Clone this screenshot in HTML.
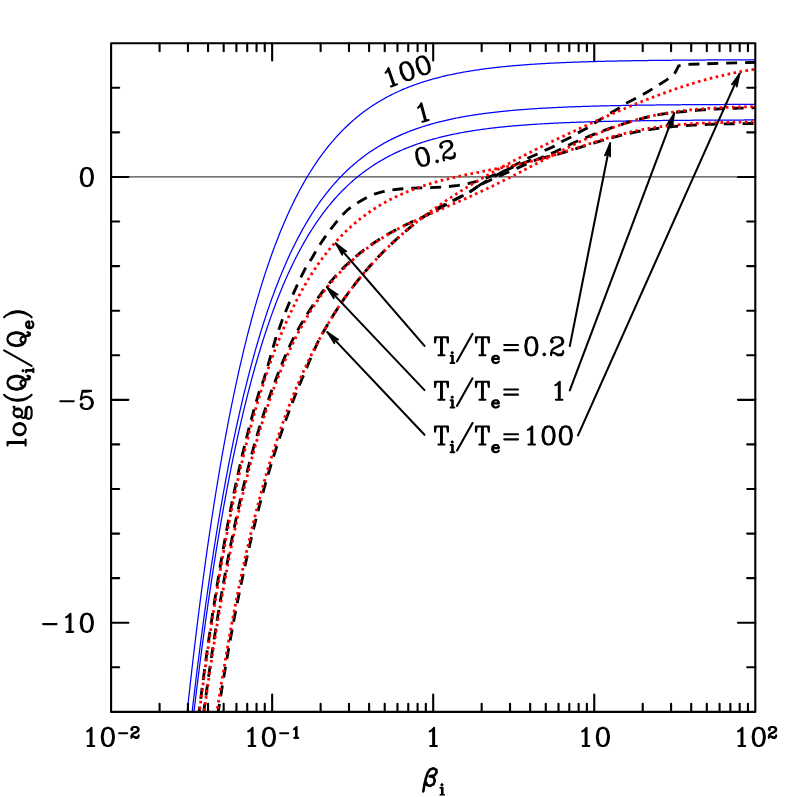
<!DOCTYPE html>
<html><head><meta charset="utf-8"><title>chart</title><style>
html,body{margin:0;padding:0;background:#fff;}
body{width:797px;height:797px;overflow:hidden;font-family:"Liberation Sans",sans-serif;}
svg{display:block}
</style></head><body>
<svg width="797" height="797" viewBox="0 0 797 797" role="img" aria-label="log(Qi/Qe) versus beta_i for Ti/Te = 0.2, 1, 100"><desc>Plot of log(Q_i/Q_e) against beta_i from 10^-2 to 10^2 for T_i/T_e=0.2, T_i/T_e=1 and T_i/T_e=100; blue solid curves labelled 100, 1, 0.2; black dashed and red dotted curves.</desc>
<defs><clipPath id="cp"><rect x="111.10" y="43.20" width="644.20" height="668.70"/></clipPath></defs>
<rect width="797" height="797" fill="#fff"/>
<g clip-path="url(#cp)" fill="none">
<path d="M111.10,176.94 H755.30" stroke="#484848" stroke-width="1.3"/>
<path d="M190.55,741.48 L191.62,732.01 L192.70,722.69 L193.77,713.50 L194.85,704.46 L195.92,695.55 L196.99,686.78 L198.07,678.14 L199.14,669.64 L200.21,661.26 L201.29,653.01 L202.36,644.89 L203.44,636.89 L204.51,629.01 L205.58,621.25 L206.66,613.61 L207.73,606.09 L208.80,598.68 L209.88,591.39 L210.95,584.20 L212.02,577.13 L213.10,570.16 L214.17,563.30 L215.25,556.54 L216.32,549.89 L217.39,543.34 L218.47,536.89 L219.54,530.53 L220.61,524.27 L221.69,518.11 L222.76,512.04 L223.83,506.07 L224.91,500.18 L225.98,494.39 L227.06,488.68 L228.13,483.06 L229.20,477.53 L230.28,472.08 L231.35,466.71 L232.42,461.43 L233.50,456.22 L234.57,451.10 L235.65,446.05 L236.72,441.08 L237.79,436.18 L238.87,431.36 L239.94,426.62 L241.01,421.94 L242.09,417.34 L243.16,412.81 L244.23,408.34 L245.31,403.95 L246.38,399.62 L247.46,395.35 L248.53,391.16 L249.60,387.02 L250.68,382.95 L251.75,378.94 L252.82,374.99 L253.90,371.11 L254.97,367.28 L256.04,363.51 L257.12,359.79 L258.19,356.14 L259.27,352.54 L260.34,348.99 L261.41,345.50 L262.49,342.06 L263.56,338.67 L264.63,335.34 L265.71,332.06 L266.78,328.82 L267.86,325.64 L268.93,322.50 L270.00,319.41 L271.08,316.37 L272.15,313.38 L273.22,310.43 L274.30,307.52 L275.37,304.66 L276.44,301.85 L277.52,299.07 L278.59,296.34 L279.67,293.65 L280.74,291.00 L281.81,288.39 L282.89,285.83 L283.96,283.30 L285.03,280.80 L286.11,278.35 L287.18,275.94 L288.25,273.56 L289.33,271.21 L290.40,268.91 L291.48,266.64 L292.55,264.40 L293.62,262.19 L294.70,260.03 L295.77,257.89 L296.84,255.78 L297.92,253.71 L298.99,251.67 L300.07,249.66 L301.14,247.68 L302.21,245.74 L303.29,243.82 L304.36,241.93 L305.43,240.07 L306.51,238.23 L307.58,236.43 L308.65,234.65 L309.73,232.90 L310.80,231.18 L311.88,229.48 L312.95,227.81 L314.02,226.16 L315.10,224.54 L316.17,222.95 L317.24,221.38 L318.32,219.83 L319.39,218.30 L320.46,216.80 L321.54,215.32 L322.61,213.87 L323.69,212.44 L324.76,211.02 L325.83,209.63 L326.91,208.26 L327.98,206.92 L329.05,205.59 L330.13,204.28 L331.20,202.99 L332.28,201.73 L333.35,200.48 L334.42,199.25 L335.50,198.04 L336.57,196.85 L337.64,195.67 L338.72,194.51 L339.79,193.38 L340.86,192.25 L341.94,191.15 L343.01,190.06 L344.09,188.99 L345.16,187.94 L346.23,186.90 L347.31,185.88 L348.38,184.87 L349.45,183.88 L350.53,182.90 L351.60,181.94 L352.67,180.99 L353.75,180.06 L354.82,179.14 L355.90,178.24 L356.97,177.35 L358.04,176.47 L359.12,175.61 L360.19,174.76 L361.26,173.92 L362.34,173.09 L363.41,172.28 L364.49,171.48 L365.56,170.69 L366.63,169.92 L367.71,169.15 L368.78,168.40 L369.85,167.66 L370.93,166.93 L372.00,166.21 L373.07,165.50 L374.15,164.81 L375.22,164.12 L376.30,163.45 L377.37,162.78 L378.44,162.13 L379.52,161.48 L380.59,160.84 L381.66,160.22 L382.74,159.60 L383.81,159.00 L384.88,158.40 L385.96,157.81 L387.03,157.23 L388.11,156.66 L389.18,156.10 L390.25,155.54 L391.33,155.00 L392.40,154.46 L393.47,153.93 L394.55,153.41 L395.62,152.90 L396.70,152.40 L397.77,151.90 L398.84,151.41 L399.92,150.93 L400.99,150.45 L402.06,149.99 L403.14,149.53 L404.21,149.07 L405.28,148.63 L406.36,148.19 L407.43,147.75 L408.51,147.33 L409.58,146.91 L410.65,146.49 L411.73,146.09 L412.80,145.69 L413.87,145.29 L414.95,144.90 L416.02,144.52 L417.09,144.14 L418.17,143.77 L419.24,143.41 L420.32,143.05 L421.39,142.69 L422.46,142.34 L423.54,142.00 L424.61,141.66 L425.68,141.33 L426.76,141.00 L427.83,140.67 L428.91,140.36 L429.98,140.04 L431.05,139.73 L432.13,139.43 L433.20,139.13 L434.27,138.83 L435.35,138.54 L436.42,138.26 L437.49,137.98 L438.57,137.70 L439.64,137.43 L440.72,137.16 L441.79,136.89 L442.86,136.63 L443.94,136.37 L445.01,136.12 L446.08,135.87 L447.16,135.63 L448.23,135.39 L449.30,135.15 L450.38,134.91 L451.45,134.68 L452.53,134.46 L453.60,134.23 L454.67,134.01 L455.75,133.79 L456.82,133.58 L457.89,133.37 L458.97,133.16 L460.04,132.96 L461.12,132.76 L462.19,132.56 L463.26,132.37 L464.34,132.17 L465.41,131.98 L466.48,131.80 L467.56,131.61 L468.63,131.43 L469.70,131.26 L470.78,131.08 L471.85,130.91 L472.93,130.74 L474.00,130.57 L475.07,130.41 L476.15,130.25 L477.22,130.09 L478.29,129.93 L479.37,129.77 L480.44,129.62 L481.51,129.47 L482.59,129.32 L483.66,129.18 L484.74,129.04 L485.81,128.89 L486.88,128.75 L487.96,128.62 L489.03,128.48 L490.10,128.35 L491.18,128.22 L492.25,128.09 L493.33,127.96 L494.40,127.84 L495.47,127.72 L496.55,127.60 L497.62,127.48 L498.69,127.36 L499.77,127.24 L500.84,127.13 L501.91,127.02 L502.99,126.91 L504.06,126.80 L505.14,126.69 L506.21,126.59 L507.28,126.48 L508.36,126.38 L509.43,126.28 L510.50,126.18 L511.58,126.08 L512.65,125.99 L513.72,125.89 L514.80,125.80 L515.87,125.71 L516.95,125.62 L518.02,125.53 L519.09,125.44 L520.17,125.35 L521.24,125.27 L522.31,125.18 L523.39,125.10 L524.46,125.02 L525.54,124.94 L526.61,124.86 L527.68,124.78 L528.76,124.71 L529.83,124.63 L530.90,124.56 L531.98,124.48 L533.05,124.41 L534.12,124.34 L535.20,124.27 L536.27,124.20 L537.35,124.14 L538.42,124.07 L539.49,124.00 L540.57,123.94 L541.64,123.88 L542.71,123.81 L543.79,123.75 L544.86,123.69 L545.93,123.63 L547.01,123.57 L548.08,123.51 L549.16,123.46 L550.23,123.40 L551.30,123.35 L552.38,123.29 L553.45,123.24 L554.52,123.18 L555.60,123.13 L556.67,123.08 L557.75,123.03 L558.82,122.98 L559.89,122.93 L560.97,122.88 L562.04,122.84 L563.11,122.79 L564.19,122.74 L565.26,122.70 L566.33,122.65 L567.41,122.61 L568.48,122.57 L569.56,122.52 L570.63,122.48 L571.70,122.44 L572.78,122.40 L573.85,122.36 L574.92,122.32 L576.00,122.28 L577.07,122.24 L578.14,122.21 L579.22,122.17 L580.29,122.13 L581.37,122.10 L582.44,122.06 L583.51,122.03 L584.59,121.99 L585.66,121.96 L586.73,121.92 L587.81,121.89 L588.88,121.86 L589.96,121.83 L591.03,121.80 L592.10,121.76 L593.18,121.73 L594.25,121.70 L595.32,121.67 L596.40,121.65 L597.47,121.62 L598.54,121.59 L599.62,121.56 L600.69,121.53 L601.77,121.51 L602.84,121.48 L603.91,121.45 L604.99,121.43 L606.06,121.40 L607.13,121.38 L608.21,121.35 L609.28,121.33 L610.35,121.31 L611.43,121.28 L612.50,121.26 L613.58,121.24 L614.65,121.21 L615.72,121.19 L616.80,121.17 L617.87,121.15 L618.94,121.13 L620.02,121.11 L621.09,121.09 L622.17,121.07 L623.24,121.05 L624.31,121.03 L625.39,121.01 L626.46,120.99 L627.53,120.97 L628.61,120.95 L629.68,120.93 L630.75,120.92 L631.83,120.90 L632.90,120.88 L633.98,120.87 L635.05,120.85 L636.12,120.83 L637.20,120.82 L638.27,120.80 L639.34,120.78 L640.42,120.77 L641.49,120.75 L642.56,120.74 L643.64,120.72 L644.71,120.71 L645.79,120.69 L646.86,120.68 L647.93,120.67 L649.01,120.65 L650.08,120.64 L651.15,120.63 L652.23,120.61 L653.30,120.60 L654.38,120.59 L655.45,120.58 L656.52,120.56 L657.60,120.55 L658.67,120.54 L659.74,120.53 L660.82,120.52 L661.89,120.50 L662.96,120.49 L664.04,120.48 L665.11,120.47 L666.19,120.46 L667.26,120.45 L668.33,120.44 L669.41,120.43 L670.48,120.42 L671.55,120.41 L672.63,120.40 L673.70,120.39 L674.77,120.38 L675.85,120.37 L676.92,120.36 L678.00,120.35 L679.07,120.34 L680.14,120.34 L681.22,120.33 L682.29,120.32 L683.36,120.31 L684.44,120.30 L685.51,120.29 L686.59,120.29 L687.66,120.28 L688.73,120.27 L689.81,120.26 L690.88,120.25 L691.95,120.25 L693.03,120.24 L694.10,120.23 L695.17,120.23 L696.25,120.22 L697.32,120.21 L698.40,120.21 L699.47,120.20 L700.54,120.19 L701.62,120.19 L702.69,120.18 L703.76,120.17 L704.84,120.17 L705.91,120.16 L706.98,120.15 L708.06,120.15 L709.13,120.14 L710.21,120.14 L711.28,120.13 L712.35,120.13 L713.43,120.12 L714.50,120.12 L715.57,120.11 L716.65,120.10 L717.72,120.10 L718.80,120.09 L719.87,120.09 L720.94,120.08 L722.02,120.08 L723.09,120.08 L724.16,120.07 L725.24,120.07 L726.31,120.06 L727.38,120.06 L728.46,120.05 L729.53,120.05 L730.61,120.04 L731.68,120.04 L732.75,120.04 L733.83,120.03 L734.90,120.03 L735.97,120.02 L737.05,120.02 L738.12,120.02 L739.19,120.01 L740.27,120.01 L741.34,120.00 L742.42,120.00 L743.49,120.00 L744.56,119.99 L745.64,119.99 L746.71,119.99 L747.78,119.98 L748.86,119.98 L749.93,119.98 L751.01,119.97 L752.08,119.97 L753.15,119.97 L754.23,119.96 L755.30,119.96" stroke="#0000ff" stroke-width="1.25"/>
<path d="M188.40,745.29 L189.48,735.52 L190.55,725.90 L191.62,716.43 L192.70,707.11 L193.77,697.92 L194.85,688.88 L195.92,679.97 L196.99,671.20 L198.07,662.56 L199.14,654.06 L200.21,645.68 L201.29,637.43 L202.36,629.31 L203.44,621.31 L204.51,613.43 L205.58,605.67 L206.66,598.03 L207.73,590.51 L208.80,583.10 L209.88,575.81 L210.95,568.62 L212.02,561.55 L213.10,554.58 L214.17,547.72 L215.25,540.96 L216.32,534.31 L217.39,527.76 L218.47,521.31 L219.54,514.95 L220.61,508.69 L221.69,502.53 L222.76,496.46 L223.83,490.49 L224.91,484.60 L225.98,478.81 L227.06,473.10 L228.13,467.48 L229.20,461.95 L230.28,456.50 L231.35,451.13 L232.42,445.85 L233.50,440.64 L234.57,435.52 L235.65,430.47 L236.72,425.50 L237.79,420.60 L238.87,415.78 L239.94,411.04 L241.01,406.36 L242.09,401.76 L243.16,397.23 L244.23,392.76 L245.31,388.37 L246.38,384.04 L247.46,379.77 L248.53,375.58 L249.60,371.44 L250.68,367.37 L251.75,363.36 L252.82,359.41 L253.90,355.53 L254.97,351.70 L256.04,347.93 L257.12,344.21 L258.19,340.56 L259.27,336.96 L260.34,333.41 L261.41,329.92 L262.49,326.48 L263.56,323.09 L264.63,319.76 L265.71,316.48 L266.78,313.24 L267.86,310.06 L268.93,306.92 L270.00,303.83 L271.08,300.79 L272.15,297.80 L273.22,294.85 L274.30,291.94 L275.37,289.08 L276.44,286.27 L277.52,283.49 L278.59,280.76 L279.67,278.07 L280.74,275.42 L281.81,272.81 L282.89,270.25 L283.96,267.72 L285.03,265.22 L286.11,262.77 L287.18,260.36 L288.25,257.98 L289.33,255.63 L290.40,253.33 L291.48,251.06 L292.55,248.82 L293.62,246.61 L294.70,244.45 L295.77,242.31 L296.84,240.20 L297.92,238.13 L298.99,236.09 L300.07,234.08 L301.14,232.10 L302.21,230.16 L303.29,228.24 L304.36,226.35 L305.43,224.49 L306.51,222.65 L307.58,220.85 L308.65,219.07 L309.73,217.32 L310.80,215.60 L311.88,213.90 L312.95,212.23 L314.02,210.58 L315.10,208.96 L316.17,207.37 L317.24,205.80 L318.32,204.25 L319.39,202.72 L320.46,201.22 L321.54,199.74 L322.61,198.29 L323.69,196.86 L324.76,195.44 L325.83,194.05 L326.91,192.68 L327.98,191.34 L329.05,190.01 L330.13,188.70 L331.20,187.41 L332.28,186.15 L333.35,184.90 L334.42,183.67 L335.50,182.46 L336.57,181.27 L337.64,180.09 L338.72,178.93 L339.79,177.80 L340.86,176.67 L341.94,175.57 L343.01,174.48 L344.09,173.41 L345.16,172.36 L346.23,171.32 L347.31,170.30 L348.38,169.29 L349.45,168.30 L350.53,167.32 L351.60,166.36 L352.67,165.41 L353.75,164.48 L354.82,163.56 L355.90,162.66 L356.97,161.77 L358.04,160.89 L359.12,160.03 L360.19,159.17 L361.26,158.34 L362.34,157.51 L363.41,156.70 L364.49,155.90 L365.56,155.11 L366.63,154.34 L367.71,153.57 L368.78,152.82 L369.85,152.08 L370.93,151.35 L372.00,150.63 L373.07,149.92 L374.15,149.23 L375.22,148.54 L376.30,147.87 L377.37,147.20 L378.44,146.55 L379.52,145.90 L380.59,145.26 L381.66,144.64 L382.74,144.02 L383.81,143.42 L384.88,142.82 L385.96,142.23 L387.03,141.65 L388.11,141.08 L389.18,140.52 L390.25,139.96 L391.33,139.42 L392.40,138.88 L393.47,138.35 L394.55,137.83 L395.62,137.32 L396.70,136.82 L397.77,136.32 L398.84,135.83 L399.92,135.35 L400.99,134.87 L402.06,134.41 L403.14,133.95 L404.21,133.49 L405.28,133.05 L406.36,132.61 L407.43,132.17 L408.51,131.75 L409.58,131.33 L410.65,130.91 L411.73,130.51 L412.80,130.11 L413.87,129.71 L414.95,129.32 L416.02,128.94 L417.09,128.56 L418.17,128.19 L419.24,127.83 L420.32,127.47 L421.39,127.11 L422.46,126.76 L423.54,126.42 L424.61,126.08 L425.68,125.75 L426.76,125.42 L427.83,125.09 L428.91,124.78 L429.98,124.46 L431.05,124.15 L432.13,123.85 L433.20,123.55 L434.27,123.25 L435.35,122.96 L436.42,122.68 L437.49,122.40 L438.57,122.12 L439.64,121.85 L440.72,121.58 L441.79,121.31 L442.86,121.05 L443.94,120.79 L445.01,120.54 L446.08,120.29 L447.16,120.05 L448.23,119.81 L449.30,119.57 L450.38,119.33 L451.45,119.10 L452.53,118.87 L453.60,118.65 L454.67,118.43 L455.75,118.21 L456.82,118.00 L457.89,117.79 L458.97,117.58 L460.04,117.38 L461.12,117.18 L462.19,116.98 L463.26,116.79 L464.34,116.59 L465.41,116.40 L466.48,116.22 L467.56,116.03 L468.63,115.85 L469.70,115.68 L470.78,115.50 L471.85,115.33 L472.93,115.16 L474.00,114.99 L475.07,114.83 L476.15,114.67 L477.22,114.51 L478.29,114.35 L479.37,114.19 L480.44,114.04 L481.51,113.89 L482.59,113.74 L483.66,113.60 L484.74,113.45 L485.81,113.31 L486.88,113.17 L487.96,113.04 L489.03,112.90 L490.10,112.77 L491.18,112.64 L492.25,112.51 L493.33,112.38 L494.40,112.26 L495.47,112.14 L496.55,112.02 L497.62,111.90 L498.69,111.78 L499.77,111.66 L500.84,111.55 L501.91,111.44 L502.99,111.33 L504.06,111.22 L505.14,111.11 L506.21,111.01 L507.28,110.90 L508.36,110.80 L509.43,110.70 L510.50,110.60 L511.58,110.50 L512.65,110.41 L513.72,110.31 L514.80,110.22 L515.87,110.13 L516.95,110.04 L518.02,109.95 L519.09,109.86 L520.17,109.77 L521.24,109.69 L522.31,109.60 L523.39,109.52 L524.46,109.44 L525.54,109.36 L526.61,109.28 L527.68,109.20 L528.76,109.13 L529.83,109.05 L530.90,108.98 L531.98,108.90 L533.05,108.83 L534.12,108.76 L535.20,108.69 L536.27,108.62 L537.35,108.56 L538.42,108.49 L539.49,108.42 L540.57,108.36 L541.64,108.30 L542.71,108.23 L543.79,108.17 L544.86,108.11 L545.93,108.05 L547.01,107.99 L548.08,107.93 L549.16,107.88 L550.23,107.82 L551.30,107.77 L552.38,107.71 L553.45,107.66 L554.52,107.60 L555.60,107.55 L556.67,107.50 L557.75,107.45 L558.82,107.40 L559.89,107.35 L560.97,107.30 L562.04,107.26 L563.11,107.21 L564.19,107.16 L565.26,107.12 L566.33,107.07 L567.41,107.03 L568.48,106.99 L569.56,106.94 L570.63,106.90 L571.70,106.86 L572.78,106.82 L573.85,106.78 L574.92,106.74 L576.00,106.70 L577.07,106.66 L578.14,106.63 L579.22,106.59 L580.29,106.55 L581.37,106.52 L582.44,106.48 L583.51,106.45 L584.59,106.41 L585.66,106.38 L586.73,106.34 L587.81,106.31 L588.88,106.28 L589.96,106.25 L591.03,106.22 L592.10,106.18 L593.18,106.15 L594.25,106.12 L595.32,106.09 L596.40,106.07 L597.47,106.04 L598.54,106.01 L599.62,105.98 L600.69,105.95 L601.77,105.93 L602.84,105.90 L603.91,105.87 L604.99,105.85 L606.06,105.82 L607.13,105.80 L608.21,105.77 L609.28,105.75 L610.35,105.73 L611.43,105.70 L612.50,105.68 L613.58,105.66 L614.65,105.63 L615.72,105.61 L616.80,105.59 L617.87,105.57 L618.94,105.55 L620.02,105.53 L621.09,105.51 L622.17,105.49 L623.24,105.47 L624.31,105.45 L625.39,105.43 L626.46,105.41 L627.53,105.39 L628.61,105.37 L629.68,105.35 L630.75,105.34 L631.83,105.32 L632.90,105.30 L633.98,105.29 L635.05,105.27 L636.12,105.25 L637.20,105.24 L638.27,105.22 L639.34,105.20 L640.42,105.19 L641.49,105.17 L642.56,105.16 L643.64,105.14 L644.71,105.13 L645.79,105.11 L646.86,105.10 L647.93,105.09 L649.01,105.07 L650.08,105.06 L651.15,105.05 L652.23,105.03 L653.30,105.02 L654.38,105.01 L655.45,105.00 L656.52,104.98 L657.60,104.97 L658.67,104.96 L659.74,104.95 L660.82,104.94 L661.89,104.92 L662.96,104.91 L664.04,104.90 L665.11,104.89 L666.19,104.88 L667.26,104.87 L668.33,104.86 L669.41,104.85 L670.48,104.84 L671.55,104.83 L672.63,104.82 L673.70,104.81 L674.77,104.80 L675.85,104.79 L676.92,104.78 L678.00,104.77 L679.07,104.76 L680.14,104.76 L681.22,104.75 L682.29,104.74 L683.36,104.73 L684.44,104.72 L685.51,104.71 L686.59,104.71 L687.66,104.70 L688.73,104.69 L689.81,104.68 L690.88,104.67 L691.95,104.67 L693.03,104.66 L694.10,104.65 L695.17,104.65 L696.25,104.64 L697.32,104.63 L698.40,104.63 L699.47,104.62 L700.54,104.61 L701.62,104.61 L702.69,104.60 L703.76,104.59 L704.84,104.59 L705.91,104.58 L706.98,104.57 L708.06,104.57 L709.13,104.56 L710.21,104.56 L711.28,104.55 L712.35,104.55 L713.43,104.54 L714.50,104.54 L715.57,104.53 L716.65,104.52 L717.72,104.52 L718.80,104.51 L719.87,104.51 L720.94,104.50 L722.02,104.50 L723.09,104.50 L724.16,104.49 L725.24,104.49 L726.31,104.48 L727.38,104.48 L728.46,104.47 L729.53,104.47 L730.61,104.46 L731.68,104.46 L732.75,104.46 L733.83,104.45 L734.90,104.45 L735.97,104.44 L737.05,104.44 L738.12,104.44 L739.19,104.43 L740.27,104.43 L741.34,104.42 L742.42,104.42 L743.49,104.42 L744.56,104.41 L745.64,104.41 L746.71,104.41 L747.78,104.40 L748.86,104.40 L749.93,104.40 L751.01,104.39 L752.08,104.39 L753.15,104.39 L754.23,104.38 L755.30,104.38" stroke="#0000ff" stroke-width="1.25"/>
<path d="M184.11,741.30 L185.18,730.92 L186.26,720.69 L187.33,710.62 L188.40,700.71 L189.48,690.94 L190.55,681.32 L191.62,671.85 L192.70,662.53 L193.77,653.34 L194.85,644.30 L195.92,635.39 L196.99,626.62 L198.07,617.98 L199.14,609.48 L200.21,601.10 L201.29,592.85 L202.36,584.73 L203.44,576.73 L204.51,568.85 L205.58,561.09 L206.66,553.45 L207.73,545.93 L208.80,538.52 L209.88,531.23 L210.95,524.04 L212.02,516.97 L213.10,510.00 L214.17,503.14 L215.25,496.38 L216.32,489.73 L217.39,483.18 L218.47,476.73 L219.54,470.37 L220.61,464.11 L221.69,457.95 L222.76,451.88 L223.83,445.91 L224.91,440.02 L225.98,434.23 L227.06,428.52 L228.13,422.90 L229.20,417.37 L230.28,411.92 L231.35,406.55 L232.42,401.27 L233.50,396.06 L234.57,390.94 L235.65,385.89 L236.72,380.92 L237.79,376.02 L238.87,371.20 L239.94,366.46 L241.01,361.78 L242.09,357.18 L243.16,352.65 L244.23,348.18 L245.31,343.79 L246.38,339.46 L247.46,335.19 L248.53,331.00 L249.60,326.86 L250.68,322.79 L251.75,318.78 L252.82,314.83 L253.90,310.95 L254.97,307.12 L256.04,303.35 L257.12,299.63 L258.19,295.98 L259.27,292.38 L260.34,288.83 L261.41,285.34 L262.49,281.90 L263.56,278.51 L264.63,275.18 L265.71,271.90 L266.78,268.66 L267.86,265.48 L268.93,262.34 L270.00,259.25 L271.08,256.21 L272.15,253.22 L273.22,250.27 L274.30,247.36 L275.37,244.50 L276.44,241.69 L277.52,238.91 L278.59,236.18 L279.67,233.49 L280.74,230.84 L281.81,228.23 L282.89,225.67 L283.96,223.14 L285.03,220.64 L286.11,218.19 L287.18,215.78 L288.25,213.40 L289.33,211.05 L290.40,208.75 L291.48,206.48 L292.55,204.24 L293.62,202.03 L294.70,199.87 L295.77,197.73 L296.84,195.62 L297.92,193.55 L298.99,191.51 L300.07,189.50 L301.14,187.52 L302.21,185.58 L303.29,183.66 L304.36,181.77 L305.43,179.91 L306.51,178.07 L307.58,176.27 L308.65,174.49 L309.73,172.74 L310.80,171.02 L311.88,169.32 L312.95,167.65 L314.02,166.00 L315.10,164.38 L316.17,162.79 L317.24,161.22 L318.32,159.67 L319.39,158.14 L320.46,156.64 L321.54,155.16 L322.61,153.71 L323.69,152.28 L324.76,150.86 L325.83,149.47 L326.91,148.10 L327.98,146.76 L329.05,145.43 L330.13,144.12 L331.20,142.83 L332.28,141.57 L333.35,140.32 L334.42,139.09 L335.50,137.88 L336.57,136.69 L337.64,135.51 L338.72,134.35 L339.79,133.22 L340.86,132.09 L341.94,130.99 L343.01,129.90 L344.09,128.83 L345.16,127.78 L346.23,126.74 L347.31,125.72 L348.38,124.71 L349.45,123.72 L350.53,122.74 L351.60,121.78 L352.67,120.83 L353.75,119.90 L354.82,118.98 L355.90,118.08 L356.97,117.19 L358.04,116.31 L359.12,115.45 L360.19,114.59 L361.26,113.76 L362.34,112.93 L363.41,112.12 L364.49,111.32 L365.56,110.53 L366.63,109.76 L367.71,108.99 L368.78,108.24 L369.85,107.50 L370.93,106.77 L372.00,106.05 L373.07,105.34 L374.15,104.65 L375.22,103.96 L376.30,103.29 L377.37,102.62 L378.44,101.97 L379.52,101.32 L380.59,100.68 L381.66,100.06 L382.74,99.44 L383.81,98.84 L384.88,98.24 L385.96,97.65 L387.03,97.07 L388.11,96.50 L389.18,95.94 L390.25,95.38 L391.33,94.84 L392.40,94.30 L393.47,93.77 L394.55,93.25 L395.62,92.74 L396.70,92.24 L397.77,91.74 L398.84,91.25 L399.92,90.77 L400.99,90.29 L402.06,89.83 L403.14,89.37 L404.21,88.91 L405.28,88.47 L406.36,88.03 L407.43,87.59 L408.51,87.17 L409.58,86.75 L410.65,86.33 L411.73,85.93 L412.80,85.53 L413.87,85.13 L414.95,84.74 L416.02,84.36 L417.09,83.98 L418.17,83.61 L419.24,83.25 L420.32,82.89 L421.39,82.53 L422.46,82.18 L423.54,81.84 L424.61,81.50 L425.68,81.17 L426.76,80.84 L427.83,80.51 L428.91,80.20 L429.98,79.88 L431.05,79.57 L432.13,79.27 L433.20,78.97 L434.27,78.67 L435.35,78.38 L436.42,78.10 L437.49,77.82 L438.57,77.54 L439.64,77.27 L440.72,77.00 L441.79,76.73 L442.86,76.47 L443.94,76.21 L445.01,75.96 L446.08,75.71 L447.16,75.47 L448.23,75.23 L449.30,74.99 L450.38,74.75 L451.45,74.52 L452.53,74.29 L453.60,74.07 L454.67,73.85 L455.75,73.63 L456.82,73.42 L457.89,73.21 L458.97,73.00 L460.04,72.80 L461.12,72.60 L462.19,72.40 L463.26,72.21 L464.34,72.01 L465.41,71.82 L466.48,71.64 L467.56,71.45 L468.63,71.27 L469.70,71.10 L470.78,70.92 L471.85,70.75 L472.93,70.58 L474.00,70.41 L475.07,70.25 L476.15,70.09 L477.22,69.93 L478.29,69.77 L479.37,69.61 L480.44,69.46 L481.51,69.31 L482.59,69.16 L483.66,69.02 L484.74,68.87 L485.81,68.73 L486.88,68.59 L487.96,68.46 L489.03,68.32 L490.10,68.19 L491.18,68.06 L492.25,67.93 L493.33,67.80 L494.40,67.68 L495.47,67.56 L496.55,67.44 L497.62,67.32 L498.69,67.20 L499.77,67.08 L500.84,66.97 L501.91,66.86 L502.99,66.75 L504.06,66.64 L505.14,66.53 L506.21,66.43 L507.28,66.32 L508.36,66.22 L509.43,66.12 L510.50,66.02 L511.58,65.92 L512.65,65.83 L513.72,65.73 L514.80,65.64 L515.87,65.55 L516.95,65.46 L518.02,65.37 L519.09,65.28 L520.17,65.19 L521.24,65.11 L522.31,65.02 L523.39,64.94 L524.46,64.86 L525.54,64.78 L526.61,64.70 L527.68,64.62 L528.76,64.55 L529.83,64.47 L530.90,64.40 L531.98,64.32 L533.05,64.25 L534.12,64.18 L535.20,64.11 L536.27,64.04 L537.35,63.98 L538.42,63.91 L539.49,63.84 L540.57,63.78 L541.64,63.72 L542.71,63.65 L543.79,63.59 L544.86,63.53 L545.93,63.47 L547.01,63.41 L548.08,63.35 L549.16,63.30 L550.23,63.24 L551.30,63.19 L552.38,63.13 L553.45,63.08 L554.52,63.02 L555.60,62.97 L556.67,62.92 L557.75,62.87 L558.82,62.82 L559.89,62.77 L560.97,62.72 L562.04,62.68 L563.11,62.63 L564.19,62.58 L565.26,62.54 L566.33,62.49 L567.41,62.45 L568.48,62.41 L569.56,62.36 L570.63,62.32 L571.70,62.28 L572.78,62.24 L573.85,62.20 L574.92,62.16 L576.00,62.12 L577.07,62.08 L578.14,62.05 L579.22,62.01 L580.29,61.97 L581.37,61.94 L582.44,61.90 L583.51,61.87 L584.59,61.83 L585.66,61.80 L586.73,61.76 L587.81,61.73 L588.88,61.70 L589.96,61.67 L591.03,61.64 L592.10,61.60 L593.18,61.57 L594.25,61.54 L595.32,61.51 L596.40,61.49 L597.47,61.46 L598.54,61.43 L599.62,61.40 L600.69,61.37 L601.77,61.35 L602.84,61.32 L603.91,61.29 L604.99,61.27 L606.06,61.24 L607.13,61.22 L608.21,61.19 L609.28,61.17 L610.35,61.15 L611.43,61.12 L612.50,61.10 L613.58,61.08 L614.65,61.05 L615.72,61.03 L616.80,61.01 L617.87,60.99 L618.94,60.97 L620.02,60.95 L621.09,60.93 L622.17,60.91 L623.24,60.89 L624.31,60.87 L625.39,60.85 L626.46,60.83 L627.53,60.81 L628.61,60.79 L629.68,60.77 L630.75,60.76 L631.83,60.74 L632.90,60.72 L633.98,60.71 L635.05,60.69 L636.12,60.67 L637.20,60.66 L638.27,60.64 L639.34,60.62 L640.42,60.61 L641.49,60.59 L642.56,60.58 L643.64,60.56 L644.71,60.55 L645.79,60.53 L646.86,60.52 L647.93,60.51 L649.01,60.49 L650.08,60.48 L651.15,60.47 L652.23,60.45 L653.30,60.44 L654.38,60.43 L655.45,60.42 L656.52,60.40 L657.60,60.39 L658.67,60.38 L659.74,60.37 L660.82,60.36 L661.89,60.34 L662.96,60.33 L664.04,60.32 L665.11,60.31 L666.19,60.30 L667.26,60.29 L668.33,60.28 L669.41,60.27 L670.48,60.26 L671.55,60.25 L672.63,60.24 L673.70,60.23 L674.77,60.22 L675.85,60.21 L676.92,60.20 L678.00,60.19 L679.07,60.18 L680.14,60.18 L681.22,60.17 L682.29,60.16 L683.36,60.15 L684.44,60.14 L685.51,60.13 L686.59,60.13 L687.66,60.12 L688.73,60.11 L689.81,60.10 L690.88,60.09 L691.95,60.09 L693.03,60.08 L694.10,60.07 L695.17,60.07 L696.25,60.06 L697.32,60.05 L698.40,60.05 L699.47,60.04 L700.54,60.03 L701.62,60.03 L702.69,60.02 L703.76,60.01 L704.84,60.01 L705.91,60.00 L706.98,59.99 L708.06,59.99 L709.13,59.98 L710.21,59.98 L711.28,59.97 L712.35,59.97 L713.43,59.96 L714.50,59.96 L715.57,59.95 L716.65,59.94 L717.72,59.94 L718.80,59.93 L719.87,59.93 L720.94,59.92 L722.02,59.92 L723.09,59.92 L724.16,59.91 L725.24,59.91 L726.31,59.90 L727.38,59.90 L728.46,59.89 L729.53,59.89 L730.61,59.88 L731.68,59.88 L732.75,59.88 L733.83,59.87 L734.90,59.87 L735.97,59.86 L737.05,59.86 L738.12,59.86 L739.19,59.85 L740.27,59.85 L741.34,59.84 L742.42,59.84 L743.49,59.84 L744.56,59.83 L745.64,59.83 L746.71,59.83 L747.78,59.82 L748.86,59.82 L749.93,59.82 L751.01,59.81 L752.08,59.81 L753.15,59.81 L754.23,59.80 L755.30,59.80" stroke="#0000ff" stroke-width="1.25"/>
<path d="M194.80,746.48 L195.05,744.39 L195.30,742.31 L195.56,740.23 L195.81,738.16 L196.06,736.10 L196.31,734.05 L196.56,732.00 L196.81,729.96 L197.06,727.93 L197.32,725.91 L197.57,723.89 L197.82,721.88 L198.07,719.88 L198.32,717.88 L198.56,715.89 L198.81,713.91 L199.06,711.94 L199.30,709.97 L199.55,708.01 L199.80,706.06 L200.04,704.11 L200.29,702.17 L200.54,700.24 L200.78,698.32 L201.03,696.40 L201.28,694.49 L201.52,692.58 L201.77,690.69 L202.02,688.79 L202.26,686.91 L202.51,685.03 L202.76,683.16 L203.00,681.30 L203.25,679.44 L203.50,677.59 L203.74,675.75 L203.99,673.91 L204.24,672.08 L204.49,670.26 L204.73,668.44 L204.98,666.63 L205.23,664.82 L205.47,663.03 L205.72,661.23 L205.97,659.45 L206.21,657.67 L206.46,655.90 L206.71,654.13 L206.96,652.37 L207.20,650.62 L207.45,648.87 L207.70,647.13 L207.94,645.40 L208.19,643.67 L208.44,641.95 L208.69,640.23 L208.93,638.52 L209.18,636.82 L209.43,635.12 L209.67,633.43 L209.92,631.75 L210.17,630.07 L210.42,628.39 L210.66,626.73 L210.91,625.06 L211.16,623.41 L211.41,621.76 L211.65,620.12 L211.90,618.48 L212.15,616.85 L212.40,615.22 L212.64,613.60 L212.89,611.99 L213.14,610.38 L213.39,608.78 L213.63,607.18 L213.88,605.59 L214.13,604.00 L214.38,602.43 L214.62,600.85 L214.87,599.28 L215.11,597.72 L215.36,596.16 L215.60,594.61 L215.85,593.07 L216.09,591.53 L216.34,589.99 L216.58,588.46 L216.83,586.94 L217.07,585.42 L217.31,583.91 L217.56,582.40 L217.80,580.90 L218.05,579.40 L218.29,577.91 L218.54,576.42 L218.78,574.94 L219.03,573.47 L219.27,572.00 L219.52,570.53 L219.76,569.07 L220.01,567.62 L220.25,566.17 L220.50,564.73 L220.74,563.29 L220.99,561.85 L221.23,560.43 L221.48,559.00 L221.72,557.58 L221.97,556.17 L222.21,554.76 L222.46,553.36 L222.70,551.96 L222.95,550.57 L223.19,549.18 L223.44,547.80 L223.68,546.42 L223.93,545.05 L224.17,543.68 L224.42,542.32 L224.66,540.96 L224.91,539.61 L225.15,538.26 L225.40,536.91 L225.65,535.57 L225.89,534.24 L226.14,532.91 L226.38,531.59 L226.63,530.27 L226.87,528.95 L227.12,527.64 L227.36,526.34 L227.61,525.04 L227.86,523.74 L228.10,522.45 L228.35,521.16 L228.59,519.88 L228.84,518.60 L229.08,517.33 L229.33,516.06 L229.58,514.80 L229.82,513.54 L230.07,512.28 L230.31,511.03 L230.56,509.79 L230.80,508.54 L231.05,507.31 L231.30,506.07 L231.54,504.85 L231.79,503.62 L232.03,502.40 L232.28,501.19 L232.53,499.98 L232.77,498.77 L233.02,497.57 L233.26,496.37 L233.51,495.18 L233.76,493.99 L234.00,492.81 L234.25,491.62 L234.49,490.45 L234.74,489.28 L234.99,488.11 L235.23,486.95 L235.48,485.79 L235.73,484.63 L235.97,483.48 L236.22,482.33 L236.46,481.19 L236.71,480.05 L236.96,478.92 L237.20,477.79 L237.45,476.66 L237.70,475.54 L237.94,474.42 L238.19,473.30 L238.44,472.19 L238.68,471.09 L238.93,469.98 L239.18,468.89 L239.42,467.79 L239.67,466.70 L239.91,465.61 L240.16,464.53 L240.41,463.45 L240.65,462.38 L240.90,461.30 L241.15,460.24 L241.39,459.17 L241.64,458.11 L241.89,457.06 L242.13,456.01 L242.38,454.96 L242.63,453.91 L242.87,452.87 L243.12,451.83 L243.37,450.80 L243.62,449.77 L243.86,448.75 L244.11,447.72 L244.36,446.70 L244.60,445.69 L244.85,444.68 L245.10,443.67 L245.34,442.67 L245.59,441.67 L245.84,440.67 L246.08,439.68 L246.33,438.69 L246.58,437.70 L246.83,436.72 L247.07,435.74 L247.32,434.76 L247.57,433.79 L247.81,432.82 L248.06,431.86 L248.31,430.89 L248.55,429.94 L248.80,428.98 L249.05,428.03 L249.30,427.08 L249.54,426.14 L249.79,425.20 L250.04,424.26 L250.29,423.32 L250.53,422.39 L250.78,421.47 L251.03,420.54 L251.27,419.62 L251.52,418.70 L251.77,417.79 L252.02,416.88 L252.26,415.97 L252.51,415.06 L252.76,414.16 L253.01,413.26 L253.25,412.37 L253.50,411.48 L253.75,410.59 L254.00,409.70 L254.24,408.82 L254.49,407.94 L254.74,407.07 L254.99,406.19 L255.23,405.32 L255.48,404.46 L255.73,403.59 L255.98,402.73 L256.22,401.88 L256.47,401.02 L256.72,400.17 L256.97,399.32 L257.21,398.48 L257.46,397.64 L257.71,396.80 L257.96,395.96 L258.21,395.13 L258.45,394.30 L258.70,393.47 L258.95,392.65 L259.20,391.83 L259.44,391.01 L259.69,390.19 L259.94,389.38 L260.19,388.57 L260.44,387.77 L263.70,380.00 L269.70,359.40 L275.70,338.30 L283.30,317.20 L290.80,299.20 L298.30,282.60 L305.80,267.50 L312.00,258.00 L318.00,247.50 L324.10,238.40 L330.00,230.00 L336.10,222.30 L342.00,215.30 L348.20,209.30 L354.00,204.80 L360.20,201.20 L367.00,197.40 L374.30,194.20 L382.00,191.90 L390.40,190.20 L400.00,189.00 L412.40,188.20 L430.50,187.60 L445.00,187.00 L458.20,185.40 L468.00,183.60 L475.80,181.60 L486.50,177.80 L500.30,172.70 L517.80,165.20 L530.00,160.60 L531.13,160.54 L532.26,160.30 L533.40,160.06 L534.53,159.82 L535.66,159.57 L536.79,159.32 L537.93,159.07 L539.06,158.82 L540.19,158.56 L541.32,158.30 L542.45,158.03 L543.59,157.77 L544.72,157.50 L545.85,157.22 L546.98,156.95 L548.11,156.67 L549.25,156.39 L550.38,156.10 L551.51,155.82 L552.64,155.53 L553.78,155.24 L554.91,154.94 L556.04,154.64 L557.17,154.34 L558.30,154.04 L559.44,153.74 L560.57,153.41 L561.70,153.08 L562.83,152.74 L563.96,152.39 L565.10,152.05 L566.23,151.70 L567.36,151.36 L568.49,151.01 L569.63,150.66 L570.76,150.30 L571.89,149.95 L573.02,149.60 L574.15,149.24 L575.29,148.88 L576.42,148.53 L577.55,148.17 L578.68,147.81 L579.82,147.45 L580.95,147.09 L582.08,146.73 L583.21,146.38 L584.34,146.02 L585.48,145.66 L586.61,145.30 L587.74,144.94 L588.87,144.59 L590.00,144.23 L591.14,143.88 L592.27,143.52 L593.40,143.17 L594.53,142.82 L595.67,142.47 L596.80,142.12 L597.93,141.78 L599.06,141.43 L600.19,141.09 L601.33,140.75 L602.46,140.42 L603.59,140.08 L604.72,139.75 L605.85,139.42 L606.99,139.10 L608.12,138.77 L609.25,138.45 L610.38,138.14 L611.52,137.82 L612.65,137.51 L613.78,137.21 L614.91,136.90 L616.04,136.60 L617.18,136.31 L618.31,136.02 L619.44,135.73 L620.57,135.44 L621.71,135.16 L622.84,134.89 L623.97,134.61 L625.10,134.35 L626.23,134.08 L627.37,133.82 L628.50,133.57 L629.63,133.32 L630.76,133.07 L631.89,132.83 L633.03,132.59 L634.16,132.35 L635.29,132.13 L636.42,131.90 L637.56,131.68 L638.69,131.46 L639.82,131.25 L640.95,131.04 L642.08,130.84 L643.22,130.64 L644.35,130.45 L645.48,130.26 L646.61,130.07 L647.74,129.89 L648.88,129.71 L650.01,129.54 L651.14,129.36 L652.27,129.18 L653.41,129.01 L654.54,128.84 L655.67,128.68 L656.80,128.52 L657.93,128.37 L659.07,128.21 L660.20,128.07 L661.33,127.92 L662.46,127.78 L663.59,127.64 L664.73,127.51 L665.86,127.38 L666.99,127.25 L668.12,127.13 L669.26,127.01 L670.39,126.89 L671.52,126.78 L672.65,126.67 L673.78,126.56 L674.92,126.45 L676.05,126.35 L677.18,126.25 L678.31,126.15 L679.45,126.06 L680.58,125.97 L681.71,125.88 L682.84,125.79 L683.97,125.71 L685.11,125.63 L686.24,125.55 L687.37,125.47 L688.50,125.40 L689.63,125.33 L690.77,125.26 L691.90,125.19 L693.03,125.12 L694.16,125.06 L695.30,125.00 L696.43,124.94 L697.56,124.88 L698.69,124.82 L699.82,124.77 L700.96,124.71 L702.09,124.66 L703.22,124.61 L704.35,124.56 L705.48,124.52 L706.62,124.47 L707.75,124.43 L708.88,124.39 L710.01,124.34 L711.15,124.30 L712.28,124.27 L713.41,124.23 L714.54,124.19 L715.67,124.16 L716.81,124.12 L717.94,124.09 L719.07,124.06 L720.20,124.03 L721.34,124.00 L722.47,123.97 L723.60,123.94 L724.73,123.91 L725.86,123.89 L727.00,123.86 L728.13,123.84 L729.26,123.82 L730.39,123.79 L731.52,123.77 L732.66,123.75 L733.79,123.73 L734.92,123.71 L736.05,123.69 L737.19,123.67 L738.32,123.66 L739.45,123.64 L740.58,123.62 L741.71,123.61 L742.85,123.59 L743.98,123.58 L745.11,123.56 L746.24,123.55 L747.37,123.53 L748.51,123.52 L749.64,123.51 L750.77,123.50 L751.90,123.49 L753.04,123.47 L754.17,123.46 L755.30,123.45" stroke="#000" stroke-width="2.85" stroke-dasharray="11.00,7.90" stroke-dashoffset="8.60" stroke-linejoin="round"/>
<path d="M199.91,741.00 L200.99,732.76 L202.06,724.63 L203.12,716.63 L204.16,708.75 L205.20,701.00 L206.25,693.36 L207.29,685.83 L208.33,678.43 L209.37,671.13 L210.42,663.94 L211.46,656.87 L212.51,649.90 L213.55,643.04 L214.60,636.28 L215.64,629.63 L216.69,623.08 L217.74,616.62 L218.78,610.27 L219.83,604.01 L220.88,597.85 L221.94,591.78 L223.00,585.80 L224.05,579.92 L225.11,574.12 L226.17,568.42 L227.23,562.80 L228.29,557.26 L229.35,551.81 L230.41,546.44 L231.47,541.16 L232.52,535.95 L233.58,530.83 L234.64,525.78 L235.70,520.81 L236.77,515.91 L237.83,511.09 L238.89,506.34 L239.95,501.67 L241.01,497.06 L242.07,492.53 L243.13,488.06 L244.19,483.67 L245.26,479.34 L246.32,475.07 L247.38,470.87 L248.44,466.74 L249.51,462.67 L250.57,458.66 L251.63,454.71 L252.69,450.82 L253.76,446.99 L254.82,443.21 L255.88,439.50 L256.95,435.84 L258.01,432.24 L259.08,428.69 L260.14,425.20 L261.21,421.76 L262.27,418.37 L263.33,415.03 L264.40,411.75 L265.46,408.51 L266.53,405.33 L267.59,402.19 L268.66,399.10 L269.73,396.05 L270.79,393.06 L271.86,390.11 L272.92,387.20 L273.99,384.34 L275.05,381.52 L276.12,378.74 L277.16,376.01 L278.19,373.31 L279.21,370.66 L280.24,368.05 L281.27,365.48 L282.30,362.95 L283.33,360.45 L284.36,358.00 L285.40,355.58 L286.43,353.19 L287.46,350.85 L288.50,348.54 L289.53,346.26 L290.57,344.02 L291.64,341.81 L292.75,339.64 L293.86,337.50 L294.97,335.39 L296.08,333.31 L297.18,331.27 L298.29,329.25 L299.40,327.27 L300.50,325.31 L301.61,323.39 L302.71,321.49 L303.81,319.63 L304.92,317.79 L306.02,315.98 L307.12,314.19 L308.23,312.44 L309.33,310.71 L310.43,309.00 L311.53,307.33 L312.63,305.67 L313.73,304.04 L314.83,302.44 L315.93,300.86 L317.02,299.30 L318.11,297.77 L319.19,296.26 L320.28,294.77 L321.36,293.31 L322.45,291.87 L323.53,290.44 L324.62,289.04 L325.70,287.66 L326.78,286.30 L327.87,284.97 L328.95,283.65 L330.03,282.35 L331.12,281.07 L332.20,279.81 L333.28,278.56 L334.37,277.34 L335.45,276.13 L336.53,274.94 L337.61,273.77 L338.70,272.62 L339.78,271.48 L340.86,270.36 L341.94,269.26 L343.02,268.17 L344.11,267.10 L345.19,266.04 L346.27,265.00 L347.35,263.97 L348.43,262.96 L349.51,261.96 L350.59,260.98 L351.67,260.01 L352.76,259.06 L353.85,258.12 L354.94,257.19 L356.03,256.27 L357.12,255.37 L358.21,254.48 L359.30,253.60 L360.39,252.74 L361.47,251.88 L362.56,251.04 L363.65,250.21 L364.74,249.39 L365.82,248.59 L366.91,247.79 L368.00,247.00 L369.08,246.23 L370.17,245.46 L371.26,244.71 L372.34,243.96 L373.43,243.22 L374.51,242.50 L375.60,241.78 L376.68,241.07 L377.77,240.37 L378.86,239.68 L379.94,239.00 L381.03,238.33 L382.11,237.66 L383.19,237.01 L384.28,236.36 L385.36,235.71 L386.45,235.08 L387.53,234.45 L388.62,233.83 L389.70,233.22 L390.78,232.61 L391.87,232.01 L392.95,231.42 L394.03,230.83 L395.12,230.25 L396.20,229.68 L397.28,229.11 L398.37,228.54 L399.45,227.99 L400.53,227.43 L401.62,226.89 L402.70,226.34 L403.78,225.81 L404.86,225.27 L405.95,224.74 L407.03,224.22 L408.11,223.70 L409.19,223.18 L410.28,222.67 L411.36,222.16 L412.44,221.66 L413.52,221.15 L414.60,220.66 L415.69,220.16 L416.77,219.67 L417.85,219.18 L418.93,218.69 L420.32,218.21 L421.39,217.73 L422.46,217.25 L423.54,216.77 L424.61,216.30 L425.68,215.76 L426.76,215.18 L427.83,214.60 L428.91,214.03 L429.98,213.45 L431.05,212.88 L432.13,212.31 L433.20,211.74 L434.27,211.17 L435.35,210.60 L436.42,210.03 L437.49,209.47 L438.57,208.90 L439.64,208.33 L440.72,207.75 L441.79,207.15 L442.86,206.56 L443.94,205.97 L445.01,205.37 L446.08,204.78 L447.16,204.18 L448.23,203.58 L449.30,202.99 L450.38,202.39 L451.45,201.79 L452.53,201.20 L453.60,200.60 L454.67,200.00 L455.75,199.42 L456.82,198.85 L457.89,198.29 L458.97,197.72 L460.04,197.15 L461.12,196.58 L462.19,196.01 L463.26,195.43 L464.34,194.86 L465.41,194.28 L466.48,193.70 L467.56,193.12 L468.63,192.54 L469.70,191.96 L470.78,191.27 L471.85,190.55 L472.93,189.83 L474.00,189.10 L475.07,188.37 L476.15,187.64 L477.22,186.91" stroke="#000" stroke-width="2.85" stroke-dasharray="11.00,7.90" stroke-dashoffset="10.80" stroke-linejoin="round"/>
<path d="M477.22,186.91 L478.29,186.18 L479.37,185.44 L480.44,184.80 L481.51,184.30 L482.59,183.80 L483.66,183.29 L484.74,182.78 L485.81,182.27 L486.88,181.76 L487.96,181.25 L489.03,180.73 L490.10,180.21 L491.18,179.70 L492.25,179.17 L493.33,178.65 L494.40,178.13 L495.47,177.63 L496.55,177.18 L497.62,176.72 L498.69,176.26 L499.77,175.80 L500.84,175.34 L501.91,174.88 L502.99,174.41 L504.06,173.94 L505.14,173.48 L506.21,173.01 L507.28,172.54 L508.36,172.07 L509.43,171.59 L510.50,171.12 L511.58,170.66 L512.65,170.19 L513.72,169.72 L514.80,169.25 L515.87,168.78 L516.95,168.31 L518.02,167.84 L519.09,167.36 L520.17,166.89 L521.24,166.42 L522.31,165.94 L523.39,165.47 L524.46,164.99 L525.54,164.51 L526.61,164.04 L527.68,163.56 L528.76,163.08 L529.83,162.60 L530.90,162.14 L531.98,161.68 L533.05,161.22 L534.12,160.76 L535.20,160.30 L536.27,159.84 L537.35,159.38 L538.42,158.92 L539.49,158.46 L540.57,158.00 L541.64,157.54 L542.71,157.08 L543.79,156.62 L544.86,156.16 L545.93,155.71 L547.01,155.25 L548.08,154.79 L549.16,154.34 L550.23,153.88 L551.30,153.43 L552.38,152.98 L553.45,152.52 L554.52,152.07 L555.60,151.57 L556.67,151.04 L557.75,150.51 L558.82,149.97 L559.89,149.44 L560.97,148.91 L562.04,148.38 L563.11,147.86 L564.19,147.33 L565.26,146.81 L566.33,146.28 L567.41,145.76 L568.48,145.24 L569.56,144.73 L570.63,144.21 L571.70,143.70 L572.78,143.21 L573.85,142.74 L574.92,142.26 L576.00,141.79 L577.07,141.32 L578.14,140.86 L579.22,140.39 L580.29,139.93 L581.37,139.47 L582.44,139.02 L583.51,138.56 L584.59,138.11 L585.66,137.66 L586.73,137.22 L587.81,136.78 L588.88,136.34 L589.96,135.90 L591.03,135.47 L592.10,135.04 L593.18,134.61 L594.25,134.18 L595.32,133.76 L596.40,133.34 L597.47,132.92 L598.54,132.51 L599.62,132.10 L600.69,131.69 L601.77,131.29 L602.84,130.89 L603.91,130.49 L604.99,130.10 L606.06,129.71 L607.13,129.33 L608.21,128.95 L609.28,128.57 L610.35,128.20 L611.43,127.83 L612.50,127.47 L613.58,127.11 L614.65,126.75 L615.72,126.40 L616.80,126.05 L617.87,125.71 L618.94,125.37 L620.02,125.04 L621.09,124.67 L622.17,124.31 L623.24,123.95 L624.31,123.59 L625.39,123.25 L626.46,122.90 L627.53,122.56 L628.61,122.23 L629.68,121.89 L630.75,121.57 L631.83,121.25 L632.90,120.93 L633.98,120.62 L635.05,120.31 L636.12,120.01 L637.20,119.71 L638.27,119.42 L639.34,119.13 L640.42,118.84 L641.49,118.56 L642.56,118.29 L643.64,118.02 L644.71,117.75 L645.79,117.49 L646.86,117.24 L647.93,116.99 L649.01,116.74 L650.08,116.50 L651.15,116.26 L652.23,116.02 L653.30,115.79 L654.38,115.57 L655.45,115.35 L656.52,115.13 L657.60,114.92 L658.67,114.71 L659.74,114.51 L660.82,114.33 L661.89,114.16 L662.96,114.00 L664.04,113.84 L665.11,113.69 L666.19,113.54 L667.26,113.39 L668.33,113.25 L669.41,113.11 L670.48,112.98 L671.55,112.84 L672.63,112.72 L673.70,112.59 L674.77,112.47 L675.85,112.35 L676.92,112.24 L678.00,112.13 L679.07,112.02 L680.14,111.92 L681.22,111.82 L682.29,111.72 L683.36,111.63 L684.44,111.54 L685.51,111.43 L686.59,111.31 L687.66,111.20 L688.73,111.09 L689.81,110.98 L690.88,110.87 L691.95,110.77 L693.03,110.67 L694.10,110.57 L695.17,110.48 L696.25,110.38 L697.32,110.29 L698.40,110.20 L699.47,110.12 L700.54,110.04 L701.62,109.95 L702.69,109.87 L703.76,109.80 L704.84,109.72 L705.91,109.65 L706.98,109.58 L708.06,109.51 L709.13,109.44 L710.21,109.37 L711.28,109.31 L712.35,109.25 L713.43,109.19 L714.50,109.13 L715.57,109.07 L716.65,109.02 L717.72,108.96 L718.80,108.91 L719.87,108.86 L720.94,108.81 L722.02,108.76 L723.09,108.71 L724.16,108.67 L725.24,108.62 L726.31,108.58 L727.38,108.54 L728.46,108.50 L729.53,108.46 L730.61,108.42 L731.68,108.38 L732.75,108.35 L733.83,108.31 L734.90,108.28 L735.97,108.25 L737.05,108.21 L738.12,108.18 L739.19,108.15 L740.27,108.12 L741.34,108.09 L742.42,108.07 L743.49,108.04 L744.56,108.01 L745.64,107.99 L746.71,107.97 L747.78,107.94 L748.86,107.92 L749.93,107.90 L751.01,107.88 L752.08,107.85 L753.15,107.83 L754.23,107.81 L755.30,107.80" stroke="#000" stroke-width="2.85" stroke-dasharray="11.00,7.90" stroke-dashoffset="13.36" stroke-linejoin="round"/>
<path d="M213.37,744.48 L213.89,740.85 L214.42,737.25 L214.94,733.67 L215.46,730.11 L215.99,726.59 L216.51,723.08 L217.03,719.60 L217.56,716.15 L218.09,712.71 L218.62,709.31 L219.15,705.92 L219.68,702.56 L220.21,699.22 L220.74,695.91 L221.26,692.62 L221.79,689.35 L222.32,686.10 L222.85,682.88 L223.38,679.68 L223.91,676.50 L224.44,673.34 L224.96,670.21 L225.49,667.09 L226.02,664.00 L226.55,660.93 L227.08,657.88 L227.61,654.85 L228.13,651.84 L228.66,648.85 L229.19,645.89 L229.72,642.94 L230.25,640.01 L230.77,637.11 L231.30,634.22 L231.83,631.35 L232.36,628.51 L232.89,625.68 L233.41,622.87 L233.94,620.08 L234.47,617.31 L235.00,614.56 L235.52,611.83 L236.05,609.11 L236.58,606.42 L237.11,603.74 L237.64,601.08 L238.16,598.44 L238.69,595.82 L239.22,593.21 L239.75,590.62 L240.28,588.05 L240.81,585.50 L241.34,582.97 L241.87,580.45 L242.40,577.95 L242.93,575.46 L243.46,573.00 L243.99,570.54 L244.52,568.11 L245.05,565.69 L245.58,563.29 L246.11,560.91 L246.63,558.54 L247.16,556.18 L247.69,553.84 L248.22,551.52 L248.75,549.22 L249.28,546.92 L249.81,544.65 L250.34,542.39 L250.87,540.14 L251.39,537.91 L251.92,535.70 L252.45,533.50 L252.98,531.31 L253.51,529.14 L254.04,526.98 L254.57,524.84 L255.09,522.71 L255.62,520.60 L256.15,518.50 L256.68,516.41 L257.21,514.34 L257.74,512.28 L258.26,510.23 L258.79,508.20 L259.32,506.18 L259.85,504.18 L260.38,502.18 L260.91,500.21 L261.43,498.24 L261.96,496.29 L262.49,494.35 L263.02,492.42 L263.55,490.50 L264.07,488.60 L264.60,486.71 L265.13,484.83 L265.66,482.97 L266.19,481.12 L266.71,479.27 L267.24,477.45 L267.77,475.63 L268.30,473.82 L268.82,472.03 L269.35,470.25 L269.88,468.48 L270.41,466.72 L270.93,464.97 L271.46,463.23 L271.99,461.51 L272.52,459.79 L273.04,458.09 L273.57,456.40 L274.10,454.72 L274.63,453.05 L275.15,451.39 L275.68,449.74 L276.21,448.10 L276.73,446.47 L277.26,444.86 L277.79,443.25 L278.32,441.65 L278.84,440.06 L279.37,438.49 L279.90,436.92 L280.42,435.36 L280.95,433.82 L281.48,432.28 L282.01,430.75 L282.53,429.23 L283.06,427.73 L283.59,426.23 L284.11,424.74 L284.64,423.26 L285.17,421.79 L285.69,420.33 L286.22,418.87 L286.75,417.43 L287.27,416.00 L287.80,414.57 L288.33,413.15 L288.85,411.75 L289.38,410.35 L289.91,408.96 L290.43,407.58 L290.96,406.20 L291.49,404.84 L292.01,403.48 L292.54,402.14 L293.07,400.80 L293.59,399.47 L294.10,398.14 L294.62,396.83 L295.13,395.52 L295.65,394.22 L296.16,392.93 L296.68,391.65 L297.19,390.37 L297.71,389.11 L298.22,387.85 L298.73,386.60 L299.25,385.35 L299.76,384.11 L300.28,382.89 L300.79,381.66 L301.31,380.45 L301.82,379.24 L302.34,378.04 L302.86,376.85 L303.37,375.66 L303.89,374.49 L304.40,373.31 L304.92,372.15 L305.43,370.99 L305.94,369.84 L306.39,368.70 L306.85,367.56 L307.30,366.43 L307.76,365.31 L308.22,364.19 L308.67,363.08 L309.13,361.98 L309.59,360.88 L310.04,359.79 L310.50,358.71 L310.96,357.63 L311.42,356.56 L311.88,355.49 L312.34,354.43 L312.80,353.38 L313.26,352.33 L313.72,351.29 L314.18,350.26 L314.64,349.23 L315.10,348.20 L315.57,347.19 L316.03,346.18 L316.49,345.17 L316.95,344.17 L317.42,343.18 L317.88,342.19 L318.35,341.21 L318.81,340.23 L319.32,339.26 L319.84,338.29 L320.37,337.33 L320.89,336.38 L321.41,335.43 L321.94,334.48 L322.46,333.54 L322.98,332.61 L323.51,331.68 L324.03,330.76 L324.55,329.84 L325.08,328.93 L325.60,328.02 L326.12,327.12 L326.64,326.22 L327.17,325.33 L327.69,324.44 L328.21,323.55 L328.74,322.68 L329.26,321.80 L329.78,320.93 L330.31,320.07 L330.83,319.21 L331.35,318.36 L331.88,317.51 L332.40,316.66 L332.92,315.82 L333.45,314.98 L333.97,314.15 L334.49,313.32 L335.02,312.50 L335.54,311.68 L336.06,310.87 L336.58,310.06 L337.11,309.25 L337.63,308.45 L338.15,307.66 L338.68,306.86 L339.20,306.08 L339.72,305.29 L340.25,304.51 L340.77,303.73 L341.29,302.96 L341.82,302.19 L342.34,301.43 L342.86,300.67 L343.39,299.91 L343.91,299.16 L344.43,298.41 L344.96,297.67 L345.48,296.93 L346.00,296.19 L346.52,295.46 L347.05,294.73 L347.57,294.00 L348.09,293.28 L348.62,292.56 L349.14,291.85 L349.66,291.14 L350.19,290.43 L350.71,289.72 L351.23,289.02 L351.76,288.33 L352.28,287.63 L352.80,286.94 L353.33,286.26 L353.85,285.57 L354.37,284.89 L354.90,284.22 L355.42,283.54 L355.94,282.87 L356.47,282.21 L356.99,281.54 L357.51,280.88 L358.03,280.23 L358.56,279.57 L359.08,278.92 L359.60,278.27 L360.13,277.63 L360.65,276.99 L361.17,276.35 L361.70,275.71 L362.22,275.08 L362.74,274.45 L363.27,273.83 L363.79,273.20 L364.31,272.58 L364.84,271.96 L365.36,271.35 L365.88,270.74 L366.41,270.13 L366.93,269.52 L367.45,268.92 L367.97,268.32 L368.50,267.72 L369.02,267.12 L369.54,266.53 L370.07,265.94 L370.59,265.36 L371.11,264.77 L371.64,264.19 L372.16,263.61 L372.68,263.03 L373.21,262.46 L373.73,261.89 L374.25,261.32 L374.78,260.75 L375.30,260.19 L375.82,259.63 L376.35,259.07 L376.87,258.51 L377.39,257.96 L377.91,257.40 L378.44,256.85 L378.96,256.31 L379.48,255.76 L380.01,255.22 L380.53,254.68 L381.05,254.14 L381.58,253.61 L382.10,253.07 L382.62,252.54 L383.15,252.01 L383.67,251.49 L384.19,250.96 L384.72,250.44 L385.24,249.92 L385.76,249.40 L386.29,248.89 L386.81,248.37 L387.33,247.86 L387.86,247.35 L388.38,246.85 L388.90,246.34 L389.42,245.84 L389.95,245.34 L390.47,244.84 L390.99,244.34 L391.52,243.84 L392.04,243.35 L392.56,242.86 L393.09,242.37 L393.61,241.88 L394.13,241.40 L394.66,240.91 L395.18,240.43 L395.70,239.95 L396.23,239.47 L396.75,239.00 L397.27,238.52 L397.80,238.05 L398.32,237.58 L398.84,237.11 L399.36,236.64 L399.89,236.18 L400.41,235.71 L400.93,235.25 L401.46,234.79 L401.98,234.33 L402.50,233.88 L403.03,233.42 L403.55,232.97 L404.07,232.52 L404.60,232.07 L405.12,231.62 L405.64,231.17 L406.17,230.72 L406.69,230.28 L407.21,229.84 L407.74,229.40 L408.26,228.96 L408.78,228.52 L409.30,228.09 L409.83,227.65 L410.35,227.22 L410.87,226.79 L411.40,226.36 L411.92,225.93 L412.44,225.50 L412.97,225.08 L413.49,224.65 L414.01,224.23 L414.54,223.81 L415.06,223.39 L415.58,222.97 L416.11,222.55 L416.63,222.14 L417.15,221.72 L417.68,221.31 L418.20,220.90 L418.72,220.49 L419.25,220.08 L419.77,219.67 L420.29,219.27 L420.81,218.86 L421.34,218.46 L421.86,218.05 L422.38,217.65 L422.91,217.25 L423.43,216.85 L423.95,216.46 L424.48,216.06 L425.00,215.67 L426.04,215.03 L427.08,214.39 L428.11,213.76 L429.15,213.13 L430.19,212.51 L431.23,211.89 L432.27,211.27 L433.30,210.66 L434.34,210.06 L435.38,209.46 L436.42,208.86 L437.46,208.27 L438.49,207.68 L439.53,207.09 L440.57,206.54 L441.61,206.02 L442.65,205.50 L443.68,204.99 L444.72,204.48 L445.76,203.97 L446.80,203.47 L447.84,202.97 L448.87,202.47 L449.91,201.98 L450.95,201.49 L451.99,201.00 L453.03,200.52 L454.06,200.04 L455.10,199.55 L456.14,198.99 L457.18,198.43 L458.22,197.87 L459.25,197.32 L460.29,196.77 L461.33,196.22 L462.37,195.67 L463.41,195.13 L464.44,194.59 L465.48,194.05 L466.52,193.52 L467.56,192.99 L468.60,192.46 L469.63,191.93 L470.67,191.28 L471.71,190.56 L472.75,189.85 L473.79,189.13 L474.82,188.42 L475.86,187.71 L476.90,187.01 L477.94,186.30" stroke="#000" stroke-width="2.85" stroke-dasharray="11.00,7.90" stroke-dashoffset="7.96" stroke-linejoin="round"/>
<path d="M477.94,186.30 L478.98,185.60 L480.01,184.90 L481.05,184.28 L482.09,183.65 L483.13,183.03 L484.17,182.42 L485.20,181.80 L486.24,181.19 L487.28,180.57 L488.32,179.96 L489.36,179.35 L490.39,178.75 L491.43,178.14 L492.47,177.54 L493.51,176.94 L494.55,176.34 L495.58,175.75 L496.62,175.15 L497.66,174.56 L498.70,173.97 L499.74,173.38 L500.77,172.80 L501.81,172.22 L502.85,171.65 L503.89,171.08 L504.93,170.51 L505.96,169.94 L507.00,169.37 L508.04,168.81 L509.08,168.25 L510.12,167.68 L511.15,167.12 L512.19,166.56 L513.23,166.01 L514.27,165.45 L515.31,164.89 L516.34,164.34 L517.38,163.79 L518.42,163.24 L519.46,162.69 L520.50,162.14 L521.53,161.59 L522.57,161.05 L523.61,160.51 L524.65,159.96 L525.69,159.42 L526.72,158.88 L527.76,158.34 L528.80,157.80 L537.60,154.00 L545.10,150.30 L555.10,145.90 L561.40,141.80 L571.40,137.00 L577.70,133.00 L587.80,127.70 L594.00,123.60 L600.00,119.60 L610.00,113.40 L620.00,107.60 L626.10,103.20 L638.00,97.20 L649.00,91.00 L658.00,85.40 L666.30,80.10 L671.00,76.80 L674.30,74.10 L676.60,70.00 L678.60,65.80 L683.00,64.90 L688.40,64.40 L700.00,64.00 L720.00,63.30 L750.00,62.50 L755.30,62.30" stroke="#000" stroke-width="2.85" stroke-dasharray="11.00,7.90" stroke-dashoffset="18.76" stroke-linejoin="round"/>
<path d="M195.92,739.70 L196.99,730.93 L198.07,722.30 L199.14,713.79 L200.21,705.41 L201.29,697.16 L202.36,689.04 L203.44,681.04 L204.51,673.16 L205.58,665.41 L206.66,657.77 L207.73,650.24 L208.80,642.84 L209.88,635.54 L210.95,628.36 L212.02,621.28 L213.10,614.31 L214.17,607.45 L215.25,600.70 L216.32,594.04 L217.39,587.49 L218.47,581.04 L219.54,574.68 L220.61,568.43 L221.69,562.27 L222.76,556.20 L223.83,550.22 L224.91,544.34 L225.98,538.54 L227.06,532.84 L228.13,527.22 L229.20,521.68 L230.28,516.23 L231.35,510.86 L232.42,505.58 L233.50,500.37 L234.57,495.25 L235.65,490.20 L236.72,485.23 L237.79,480.34 L238.87,475.52 L239.94,470.77 L241.01,466.10 L242.09,461.49 L243.16,456.96 L244.23,452.50 L245.31,448.10 L246.38,443.77 L247.46,439.51 L248.53,435.31 L249.60,431.18 L250.68,427.10 L251.75,423.09 L252.82,419.15 L253.90,415.26 L254.97,411.43 L256.04,407.66 L257.12,403.95 L258.19,400.29 L259.27,396.69 L260.34,393.14 L261.41,389.65 L262.49,386.21 L263.56,382.83 L264.63,379.49 L265.71,376.21 L266.78,372.97 L267.86,369.79 L268.93,366.65 L270.00,363.56 L271.08,360.52 L272.15,357.53 L273.22,354.58 L274.30,351.67 L275.37,348.81 L276.44,346.00 L277.52,343.22 L278.59,340.49 L279.67,337.80 L280.74,335.15 L281.81,332.54 L282.89,329.98 L283.96,327.45 L285.03,324.95 L286.11,322.50 L287.18,320.08 L288.25,317.71 L289.33,315.36 L290.40,313.06 L291.48,310.78 L292.55,308.55 L293.62,306.34 L294.70,304.17 L295.77,302.04 L296.84,299.93 L297.92,297.86 L298.99,295.82 L300.07,293.81 L301.14,291.83 L302.21,289.88 L303.29,287.96 L304.36,286.07 L305.43,284.21 L306.51,282.38 L307.58,280.57 L308.65,278.80 L309.73,277.05 L310.80,275.32 L311.88,273.62 L312.95,271.95 L314.02,270.31 L315.10,268.68 L316.17,267.09 L317.24,265.52 L318.32,263.97 L319.39,262.44 L320.46,260.94 L321.54,259.46 L322.61,258.01 L323.69,256.57 L324.76,255.16 L325.83,253.77 L326.91,252.40 L327.98,251.05 L329.05,249.72 L330.13,248.42 L331.20,247.13 L332.28,245.86 L333.35,244.61 L334.42,243.38 L335.50,242.17 L336.57,240.97 L337.64,239.80 L338.72,238.64 L339.79,237.50 L340.86,236.38 L341.94,235.28 L343.01,234.19 L344.09,233.12 L345.16,232.06 L346.23,231.02 L347.31,230.00 L348.38,228.99 L349.45,228.00 L350.53,227.02 L351.60,226.05 L352.67,225.11 L353.75,224.17 L354.82,223.25 L355.90,222.35 L356.97,221.45 L358.04,220.58 L359.12,219.71 L360.19,218.86 L361.26,218.02 L362.34,217.19 L363.41,216.38 L364.49,215.58 L365.56,214.79 L366.63,214.01 L367.71,213.24 L368.78,212.49 L369.85,211.75 L370.93,211.01 L372.00,210.29 L373.07,209.58 L374.15,208.88 L375.22,208.20 L376.30,207.52 L377.37,206.85 L378.44,206.19 L379.52,205.54 L380.59,204.90 L381.66,204.27 L382.74,203.66 L383.81,203.05 L384.88,202.44 L385.96,201.85 L387.03,201.27 L388.11,200.69 L389.18,200.13 L390.25,199.57 L391.33,199.02 L392.40,198.48 L393.47,197.95 L394.55,197.42 L395.62,196.90 L396.70,196.40 L397.77,195.89 L398.84,195.40 L399.92,194.91 L400.99,194.43 L402.06,193.96 L403.14,193.49 L404.21,193.03 L405.28,192.58 L406.36,192.13 L407.43,191.69 L408.51,191.26 L409.58,190.83 L410.65,190.41 L411.73,190.00 L412.80,189.59 L413.87,189.18 L414.95,188.79 L416.02,188.39 L417.09,188.01 L418.17,187.63 L419.24,187.25 L420.32,186.88 L421.39,186.52 L422.46,186.16 L423.54,185.80 L424.61,185.45 L425.68,185.10 L426.76,184.76 L427.83,184.43 L428.91,184.10 L429.98,183.77 L431.05,183.45 L432.13,183.13 L433.20,182.81 L434.27,182.50 L435.35,182.20 L436.42,181.89 L437.49,181.59 L438.57,181.30 L439.64,181.01 L440.72,180.72 L441.79,180.44 L442.86,180.16 L443.94,179.88 L445.01,179.60 L446.08,179.33 L447.16,179.07 L448.23,178.80 L449.30,178.54 L450.38,178.28 L451.45,178.02 L452.53,177.77 L453.60,177.52 L454.67,177.27 L455.75,177.02 L456.82,176.78 L457.89,176.54 L458.97,176.30 L460.04,176.06 L461.12,175.83 L462.19,175.60 L463.26,175.36 L464.34,175.14 L465.41,174.91 L466.48,174.68 L467.56,174.46 L468.63,174.24 L469.70,174.02 L470.78,173.80 L471.85,173.58 L472.93,173.36 L474.00,173.15 L475.07,172.93 L476.15,172.72 L477.22,172.50 L478.29,172.29 L479.37,172.08 L480.44,171.87 L481.51,171.66 L482.59,171.45 L483.66,171.24 L484.74,171.03 L485.81,170.83 L486.88,170.62 L487.96,170.41 L489.03,170.20 L490.10,170.00 L491.18,169.79 L492.25,169.58 L493.33,169.37 L494.40,169.16 L495.47,168.95 L496.55,168.75 L497.62,168.54 L498.69,168.32 L499.77,168.11 L500.84,167.90 L501.91,167.69 L502.99,167.47 L504.06,167.26 L505.14,167.04 L506.21,166.83 L507.28,166.61 L508.36,166.39 L509.43,166.17 L510.50,165.94 L511.58,165.72 L512.65,165.49 L513.72,165.27 L514.80,165.04 L515.87,164.81 L516.95,164.57 L518.02,164.34 L519.09,164.10 L520.17,163.87 L521.24,163.62 L522.31,163.38 L523.39,163.14 L524.46,162.89 L525.54,162.64 L526.61,162.39 L527.68,162.13 L528.76,161.88 L529.83,161.62 L530.90,161.36 L531.98,161.09 L533.05,160.82 L534.12,160.56 L535.20,160.28 L536.27,160.01 L537.35,159.73 L538.42,159.45 L539.49,159.17 L540.57,158.88 L541.64,158.60 L542.71,158.31 L543.79,158.01 L544.86,157.72 L545.93,157.42 L547.01,157.12 L548.08,156.81 L549.16,156.51 L550.23,156.20 L551.30,155.89 L552.38,155.58 L553.45,155.26 L554.52,154.94 L555.60,154.62 L556.67,154.30 L557.75,153.97 L558.82,153.65 L559.89,153.32 L560.97,152.99 L562.04,152.65 L563.11,152.32 L564.19,151.98 L565.26,151.64 L566.33,151.30 L567.41,150.96 L568.48,150.62 L569.56,150.27 L570.63,149.93 L571.70,149.58 L572.78,149.23 L573.85,148.88 L574.92,148.53 L576.00,148.18 L577.07,147.83 L578.14,147.48 L579.22,147.13 L580.29,146.78 L581.37,146.42 L582.44,146.07 L583.51,145.72 L584.59,145.37 L585.66,145.01 L586.73,144.66 L587.81,144.31 L588.88,143.96 L589.96,143.61 L591.03,143.26 L592.10,142.92 L593.18,142.57 L594.25,142.23 L595.32,141.88 L596.40,141.54 L597.47,141.20 L598.54,140.86 L599.62,140.53 L600.69,140.19 L601.77,139.86 L602.84,139.53 L603.91,139.20 L604.99,138.87 L606.06,138.55 L607.13,138.23 L608.21,137.91 L609.28,137.60 L610.35,137.28 L611.43,136.98 L612.50,136.67 L613.58,136.37 L614.65,136.07 L615.72,135.77 L616.80,135.48 L617.87,135.18 L618.94,134.90 L620.02,134.61 L621.09,134.34 L622.17,134.06 L623.24,133.79 L624.31,133.52 L625.39,133.25 L626.46,132.99 L627.53,132.73 L628.61,132.48 L629.68,132.23 L630.75,131.98 L631.83,131.74 L632.90,131.50 L633.98,131.27 L635.05,131.04 L636.12,130.81 L637.20,130.59 L638.27,130.37 L639.34,130.16 L640.42,129.95 L641.49,129.74 L642.56,129.54 L643.64,129.34 L644.71,129.14 L645.79,128.95 L646.86,128.76 L647.93,128.58 L649.01,128.40 L650.08,128.22 L651.15,128.05 L652.23,127.88 L653.30,127.72 L654.38,127.56 L655.45,127.40 L656.52,127.24 L657.60,127.09 L658.67,126.94 L659.74,126.80 L660.82,126.66 L661.89,126.52 L662.96,126.38 L664.04,126.25 L665.11,126.12 L666.19,126.00 L667.26,125.88 L668.33,125.76 L669.41,125.64 L670.48,125.53 L671.55,125.41 L672.63,125.31 L673.70,125.20 L674.77,125.10 L675.85,125.00 L676.92,124.90 L678.00,124.81 L679.07,124.71 L680.14,124.62 L681.22,124.53 L682.29,124.45 L683.36,124.36 L684.44,124.28 L685.51,124.20 L686.59,124.13 L687.66,124.05 L688.73,123.98 L689.81,123.91 L690.88,123.84 L691.95,123.77 L693.03,123.71 L694.10,123.64 L695.17,123.58 L696.25,123.52 L697.32,123.46 L698.40,123.41 L699.47,123.35 L700.54,123.30 L701.62,123.24 L702.69,123.19 L703.76,123.14 L704.84,123.09 L705.91,123.05 L706.98,123.00 L708.06,122.96 L709.13,122.92 L710.21,122.87 L711.28,122.83 L712.35,122.79 L713.43,122.76 L714.50,122.72 L715.57,122.68 L716.65,122.65 L717.72,122.61 L718.80,122.58 L719.87,122.55 L720.94,122.52 L722.02,122.48 L723.09,122.45 L724.16,122.43 L725.24,122.40 L726.31,122.37 L727.38,122.34 L728.46,122.32 L729.53,122.29 L730.61,122.27 L731.68,122.25 L732.75,122.22 L733.83,122.20 L734.90,122.18 L735.97,122.16 L737.05,122.14 L738.12,122.12 L739.19,122.10 L740.27,122.08 L741.34,122.06 L742.42,122.04 L743.49,122.03 L744.56,122.01 L745.64,121.99 L746.71,121.98 L747.78,121.96 L748.86,121.95 L749.93,121.93 L751.01,121.92 L752.08,121.91 L753.15,121.89 L754.23,121.88 L755.30,121.87" stroke="#ff0000" stroke-width="2.8" stroke-dasharray="2.6,3.5"/>
<path d="M200.21,741.00 L201.29,732.76 L202.36,724.63 L203.44,716.63 L204.51,708.75 L205.58,701.00 L206.66,693.36 L207.73,685.83 L208.80,678.43 L209.88,671.13 L210.95,663.94 L212.02,656.87 L213.10,649.90 L214.17,643.04 L215.25,636.28 L216.32,629.63 L217.39,623.08 L218.47,616.62 L219.54,610.27 L220.61,604.01 L221.69,597.85 L222.76,591.78 L223.83,585.80 L224.91,579.92 L225.98,574.12 L227.06,568.42 L228.13,562.80 L229.20,557.26 L230.28,551.81 L231.35,546.44 L232.42,541.16 L233.50,535.95 L234.57,530.83 L235.65,525.78 L236.72,520.81 L237.79,515.91 L238.87,511.09 L239.94,506.34 L241.01,501.67 L242.09,497.06 L243.16,492.53 L244.23,488.06 L245.31,483.67 L246.38,479.34 L247.46,475.07 L248.53,470.87 L249.60,466.74 L250.68,462.67 L251.75,458.66 L252.82,454.71 L253.90,450.82 L254.97,446.99 L256.04,443.21 L257.12,439.50 L258.19,435.84 L259.27,432.24 L260.34,428.69 L261.41,425.20 L262.49,421.76 L263.56,418.37 L264.63,415.03 L265.71,411.75 L266.78,408.51 L267.86,405.33 L268.93,402.19 L270.00,399.10 L271.08,396.05 L272.15,393.06 L273.22,390.11 L274.30,387.20 L275.37,384.34 L276.44,381.52 L277.52,378.74 L278.59,376.01 L279.67,373.31 L280.74,370.66 L281.81,368.05 L282.89,365.48 L283.96,362.95 L285.03,360.45 L286.11,358.00 L287.18,355.58 L288.25,353.19 L289.33,350.85 L290.40,348.54 L291.48,346.26 L292.55,344.02 L293.62,341.81 L294.70,339.64 L295.77,337.50 L296.84,335.39 L297.92,333.31 L298.99,331.27 L300.07,329.25 L301.14,327.27 L302.21,325.31 L303.29,323.39 L304.36,321.49 L305.43,319.63 L306.51,317.79 L307.58,315.98 L308.65,314.19 L309.73,312.44 L310.80,310.71 L311.88,309.00 L312.95,307.33 L314.02,305.67 L315.10,304.04 L316.17,302.44 L317.24,300.86 L318.32,299.30 L319.39,297.77 L320.46,296.26 L321.54,294.77 L322.61,293.31 L323.69,291.87 L324.76,290.44 L325.83,289.04 L326.91,287.66 L327.98,286.30 L329.05,284.97 L330.13,283.65 L331.20,282.35 L332.28,281.07 L333.35,279.81 L334.42,278.56 L335.50,277.34 L336.57,276.13 L337.64,274.94 L338.72,273.77 L339.79,272.62 L340.86,271.48 L341.94,270.36 L343.01,269.26 L344.09,268.17 L345.16,267.10 L346.23,266.04 L347.31,265.00 L348.38,263.97 L349.45,262.96 L350.53,261.96 L351.60,260.98 L352.67,260.01 L353.75,259.06 L354.82,258.12 L355.90,257.19 L356.97,256.27 L358.04,255.37 L359.12,254.48 L360.19,253.60 L361.26,252.74 L362.34,251.88 L363.41,251.04 L364.49,250.21 L365.56,249.39 L366.63,248.59 L367.71,247.79 L368.78,247.00 L369.85,246.23 L370.93,245.46 L372.00,244.71 L373.07,243.96 L374.15,243.22 L375.22,242.50 L376.30,241.78 L377.37,241.07 L378.44,240.37 L379.52,239.68 L380.59,239.00 L381.66,238.33 L382.74,237.66 L383.81,237.01 L384.88,236.36 L385.96,235.71 L387.03,235.08 L388.11,234.45 L389.18,233.83 L390.25,233.22 L391.33,232.61 L392.40,232.01 L393.47,231.42 L394.55,230.83 L395.62,230.25 L396.70,229.68 L397.77,229.11 L398.84,228.54 L399.92,227.99 L400.99,227.43 L402.06,226.89 L403.14,226.34 L404.21,225.81 L405.28,225.27 L406.36,224.74 L407.43,224.22 L408.51,223.70 L409.58,223.18 L410.65,222.67 L411.73,222.16 L412.80,221.66 L413.87,221.15 L414.95,220.66 L416.02,220.16 L417.09,219.67 L418.17,219.18 L419.24,218.69 L420.32,218.21 L421.39,217.73 L422.46,217.25 L423.54,216.77 L424.61,216.30 L425.68,215.83 L426.76,215.35 L427.83,214.89 L428.91,214.42 L429.98,213.95 L431.05,213.49 L432.13,213.02 L433.20,212.56 L434.27,212.10 L435.35,211.64 L436.42,211.18 L437.49,210.72 L438.57,210.26 L439.64,209.80 L440.72,209.34 L441.79,208.88 L442.86,208.42 L443.94,207.96 L445.01,207.51 L446.08,207.05 L447.16,206.59 L448.23,206.13 L449.30,205.67 L450.38,205.21 L451.45,204.75 L452.53,204.28 L453.60,203.82 L454.67,203.36 L455.75,202.89 L456.82,202.42 L457.89,201.96 L458.97,201.49 L460.04,201.02 L461.12,200.55 L462.19,200.08 L463.26,199.60 L464.34,199.13 L465.41,198.65 L466.48,198.17 L467.56,197.69 L468.63,197.21 L469.70,196.73 L470.78,196.24 L471.85,195.76 L472.93,195.27 L474.00,194.78 L475.07,194.29 L476.15,193.80 L477.22,193.30 L478.29,192.80 L479.37,192.30 L480.44,191.80 L481.51,191.30 L482.59,190.80 L483.66,190.29 L484.74,189.78 L485.81,189.27 L486.88,188.76 L487.96,188.25 L489.03,187.73 L490.10,187.21 L491.18,186.70 L492.25,186.17 L493.33,185.65 L494.40,185.13 L495.47,184.60 L496.55,184.08 L497.62,183.55 L498.69,183.02 L499.77,182.48 L500.84,181.95 L501.91,181.41 L502.99,180.88 L504.06,180.34 L505.14,179.80 L506.21,179.26 L507.28,178.72 L508.36,178.17 L509.43,177.63 L510.50,177.08 L511.58,176.54 L512.65,175.99 L513.72,175.44 L514.80,174.89 L515.87,174.34 L516.95,173.79 L518.02,173.24 L519.09,172.68 L520.17,172.13 L521.24,171.57 L522.31,171.02 L523.39,170.46 L524.46,169.91 L525.54,169.35 L526.61,168.79 L527.68,168.23 L528.76,167.67 L529.83,167.12 L530.90,166.56 L531.98,166.00 L533.05,165.44 L534.12,164.88 L535.20,164.32 L536.27,163.76 L537.35,163.20 L538.42,162.64 L539.49,162.08 L540.57,161.53 L541.64,160.97 L542.71,160.41 L543.79,159.85 L544.86,159.30 L545.93,158.74 L547.01,158.18 L548.08,157.63 L549.16,157.08 L550.23,156.52 L551.30,155.97 L552.38,155.42 L553.45,154.87 L554.52,154.32 L555.60,153.77 L556.67,153.22 L557.75,152.67 L558.82,152.13 L559.89,151.58 L560.97,151.04 L562.04,150.50 L563.11,149.96 L564.19,149.42 L565.26,148.89 L566.33,148.35 L567.41,147.82 L568.48,147.29 L569.56,146.76 L570.63,146.23 L571.70,145.70 L572.78,145.18 L573.85,144.66 L574.92,144.14 L576.00,143.62 L577.07,143.10 L578.14,142.59 L579.22,142.08 L580.29,141.57 L581.37,141.07 L582.44,140.56 L583.51,140.06 L584.59,139.57 L585.66,139.07 L586.73,138.58 L587.81,138.09 L588.88,137.60 L589.96,137.12 L591.03,136.64 L592.10,136.16 L593.18,135.69 L594.25,135.22 L595.32,134.75 L596.40,134.29 L597.47,133.83 L598.54,133.37 L599.62,132.91 L600.69,132.46 L601.77,132.02 L602.84,131.58 L603.91,131.14 L604.99,130.70 L606.06,130.27 L607.13,129.84 L608.21,129.42 L609.28,129.00 L610.35,128.58 L611.43,128.17 L612.50,127.77 L613.58,127.36 L614.65,126.96 L615.72,126.57 L616.80,126.18 L617.87,125.79 L618.94,125.41 L620.02,125.04 L621.09,124.66 L622.17,124.30 L623.24,123.93 L624.31,123.57 L625.39,123.22 L626.46,122.87 L627.53,122.52 L628.61,122.18 L629.68,121.85 L630.75,121.51 L631.83,121.19 L632.90,120.87 L633.98,120.55 L635.05,120.24 L636.12,119.93 L637.20,119.62 L638.27,119.33 L639.34,119.03 L640.42,118.74 L641.49,118.46 L642.56,118.18 L643.64,117.90 L644.71,117.63 L645.79,117.36 L646.86,117.10 L647.93,116.85 L649.01,116.59 L650.08,116.35 L651.15,116.10 L652.23,115.86 L653.30,115.63 L654.38,115.40 L655.45,115.17 L656.52,114.95 L657.60,114.73 L658.67,114.52 L659.74,114.31 L660.82,114.10 L661.89,113.90 L662.96,113.71 L664.04,113.51 L665.11,113.33 L666.19,113.14 L667.26,112.96 L668.33,112.78 L669.41,112.61 L670.48,112.44 L671.55,112.27 L672.63,112.11 L673.70,111.95 L674.77,111.80 L675.85,111.65 L676.92,111.50 L678.00,111.35 L679.07,111.21 L680.14,111.07 L681.22,110.94 L682.29,110.81 L683.36,110.68 L684.44,110.55 L685.51,110.43 L686.59,110.31 L687.66,110.19 L688.73,110.08 L689.81,109.97 L690.88,109.86 L691.95,109.75 L693.03,109.65 L694.10,109.55 L695.17,109.45 L696.25,109.35 L697.32,109.26 L698.40,109.17 L699.47,109.08 L700.54,108.99 L701.62,108.91 L702.69,108.83 L703.76,108.75 L704.84,108.67 L705.91,108.59 L706.98,108.52 L708.06,108.45 L709.13,108.38 L710.21,108.31 L711.28,108.24 L712.35,108.17 L713.43,108.11 L714.50,108.05 L715.57,107.99 L716.65,107.93 L717.72,107.87 L718.80,107.82 L719.87,107.77 L720.94,107.71 L722.02,107.66 L723.09,107.61 L724.16,107.56 L725.24,107.52 L726.31,107.47 L727.38,107.43 L728.46,107.38 L729.53,107.34 L730.61,107.30 L731.68,107.26 L732.75,107.22 L733.83,107.18 L734.90,107.15 L735.97,107.11 L737.05,107.07 L738.12,107.04 L739.19,107.01 L740.27,106.98 L741.34,106.94 L742.42,106.91 L743.49,106.88 L744.56,106.86 L745.64,106.83 L746.71,106.80 L747.78,106.77 L748.86,106.75 L749.93,106.72 L751.01,106.70 L752.08,106.68 L753.15,106.65 L754.23,106.63 L755.30,106.61" stroke="#ff0000" stroke-width="2.8" stroke-dasharray="2.6,3.5"/>
<path d="M212.02,744.80 L213.10,737.38 L214.17,730.06 L215.25,722.84 L216.32,715.73 L217.39,708.72 L218.47,701.81 L219.54,695.00 L220.61,688.28 L221.69,681.66 L222.76,675.13 L223.83,668.69 L224.91,662.34 L225.98,656.09 L227.06,649.92 L228.13,643.84 L229.20,637.84 L230.28,631.93 L231.35,626.10 L232.42,620.35 L233.50,614.68 L234.57,609.09 L235.65,603.58 L236.72,598.14 L237.79,592.78 L238.87,587.50 L239.94,582.29 L241.01,577.15 L242.09,572.08 L243.16,567.08 L244.23,562.15 L245.31,557.28 L246.38,552.49 L247.46,547.76 L248.53,543.09 L249.60,538.49 L250.68,533.95 L251.75,529.48 L252.82,525.06 L253.90,520.70 L254.97,516.41 L256.04,512.17 L257.12,507.99 L258.19,503.86 L259.27,499.79 L260.34,495.78 L261.41,491.82 L262.49,487.91 L263.56,484.05 L264.63,480.25 L265.71,476.49 L266.78,472.79 L267.86,469.13 L268.93,465.53 L270.00,461.97 L271.08,458.46 L272.15,454.99 L273.22,451.57 L274.30,448.20 L275.37,444.87 L276.44,441.58 L277.52,438.33 L278.59,435.13 L279.67,431.97 L280.74,428.85 L281.81,425.77 L282.89,422.73 L283.96,419.73 L285.03,416.76 L286.11,413.84 L287.18,410.95 L288.25,408.10 L289.33,405.29 L290.40,402.51 L291.48,399.76 L292.55,397.05 L293.62,394.38 L294.70,391.73 L295.77,389.12 L296.84,386.55 L297.92,384.00 L298.99,381.49 L300.07,379.01 L301.14,376.56 L302.21,374.13 L303.29,371.74 L304.36,369.38 L305.43,367.05 L306.51,364.74 L307.58,362.46 L308.65,360.21 L309.73,357.99 L310.80,355.79 L311.88,353.62 L312.95,351.48 L314.02,349.36 L315.10,347.26 L316.17,345.19 L317.24,343.15 L318.32,341.12 L319.39,339.13 L320.46,337.15 L321.54,335.20 L322.61,333.27 L323.69,331.36 L324.76,329.48 L325.83,327.61 L326.91,325.77 L327.98,323.95 L329.05,322.15 L330.13,320.36 L331.20,318.60 L332.28,316.86 L333.35,315.14 L334.42,313.43 L335.50,311.75 L336.57,310.08 L337.64,308.43 L338.72,306.80 L339.79,305.19 L340.86,303.59 L341.94,302.02 L343.01,300.45 L344.09,298.91 L345.16,297.38 L346.23,295.87 L347.31,294.37 L348.38,292.89 L349.45,291.42 L350.53,289.97 L351.60,288.53 L352.67,287.11 L353.75,285.70 L354.82,284.31 L355.90,282.93 L356.97,281.57 L358.04,280.22 L359.12,278.88 L360.19,277.55 L361.26,276.24 L362.34,274.94 L363.41,273.65 L364.49,272.38 L365.56,271.12 L366.63,269.86 L367.71,268.63 L368.78,267.40 L369.85,266.18 L370.93,264.98 L372.00,263.79 L373.07,262.60 L374.15,261.43 L375.22,260.27 L376.30,259.12 L377.37,257.98 L378.44,256.85 L379.52,255.73 L380.59,254.62 L381.66,253.52 L382.74,252.43 L383.81,251.35 L384.88,250.27 L385.96,249.21 L387.03,248.15 L388.11,247.11 L389.18,246.07 L390.25,245.04 L391.33,244.02 L392.40,243.01 L393.47,242.01 L394.55,241.01 L395.62,240.03 L396.70,239.05 L397.77,238.07 L398.84,237.11 L399.92,236.15 L400.99,235.20 L402.06,234.26 L403.14,233.33 L404.21,232.40 L405.28,231.48 L406.36,230.56 L407.43,229.65 L408.51,228.75 L409.58,227.86 L410.65,226.97 L411.73,226.09 L412.80,225.21 L413.87,224.34 L414.95,223.48 L416.02,222.62 L417.09,221.77 L418.17,220.92 L419.24,220.08 L420.32,219.25 L421.39,218.42 L422.46,217.59 L423.54,216.77 L424.61,215.96 L425.68,215.15 L426.76,214.35 L427.83,213.55 L428.91,212.76 L429.98,211.97 L431.05,211.19 L432.13,210.41 L433.20,209.63 L434.27,208.86 L435.35,208.10 L436.42,207.34 L437.49,206.58 L438.57,205.83 L439.64,205.08 L440.72,204.34 L441.79,203.60 L442.86,202.86 L443.94,202.13 L445.01,201.40 L446.08,200.68 L447.16,199.96 L448.23,199.24 L449.30,198.53 L450.38,197.82 L451.45,197.12 L452.53,196.41 L453.60,195.72 L454.67,195.02 L455.75,194.33 L456.82,193.64 L457.89,192.96 L458.97,192.27 L460.04,191.60 L461.12,190.92 L462.19,190.25 L463.26,189.58 L464.34,188.91 L465.41,188.25 L466.48,187.59 L467.56,186.93 L468.63,186.28 L469.70,185.63 L470.78,184.98 L471.85,184.33 L472.93,183.69 L474.00,183.05 L475.07,182.41 L476.15,181.77 L477.22,181.14 L478.29,180.51 L479.37,179.88 L480.44,179.25 L481.51,178.63 L482.59,178.01 L483.66,177.39 L484.74,176.77 L485.81,176.16 L486.88,175.54 L487.96,174.93 L489.03,174.33 L490.10,173.72 L491.18,173.12 L492.25,172.51 L493.33,171.91 L494.40,171.32 L495.47,170.72 L496.55,170.13 L497.62,169.53 L498.69,168.94 L499.77,168.36 L500.84,167.77 L501.91,167.18 L502.99,166.60 L504.06,166.02 L505.14,165.44 L506.21,164.86 L507.28,164.29 L508.36,163.71 L509.43,163.14 L510.50,162.57 L511.58,162.00 L512.65,161.43 L513.72,160.86 L514.80,160.30 L515.87,159.74 L516.95,159.17 L518.02,158.61 L519.09,158.05 L520.17,157.50 L521.24,156.94 L522.31,156.39 L523.39,155.83 L524.46,155.28 L525.54,154.73 L526.61,154.18 L527.68,153.63 L528.76,153.09 L529.83,152.54 L530.90,152.00 L531.98,151.45 L533.05,150.91 L534.12,150.37 L535.20,149.83 L536.27,149.30 L537.35,148.76 L538.42,148.22 L539.49,147.69 L540.57,147.16 L541.64,146.62 L542.71,146.09 L543.79,145.56 L544.86,145.03 L545.93,144.51 L547.01,143.98 L548.08,143.46 L549.16,142.93 L550.23,142.41 L551.30,141.89 L552.38,141.36 L553.45,140.84 L554.52,140.33 L555.60,139.81 L556.67,139.29 L557.75,138.78 L558.82,138.26 L559.89,137.75 L560.97,137.23 L562.04,136.72 L563.11,136.21 L564.19,135.70 L565.26,135.19 L566.33,134.68 L567.41,134.18 L568.48,133.67 L569.56,133.17 L570.63,132.66 L571.70,132.16 L572.78,131.66 L573.85,131.16 L574.92,130.66 L576.00,130.16 L577.07,129.66 L578.14,129.16 L579.22,128.67 L580.29,128.17 L581.37,127.68 L582.44,127.18 L583.51,126.69 L584.59,126.20 L585.66,125.71 L586.73,125.22 L587.81,124.73 L588.88,124.24 L589.96,123.76 L591.03,123.27 L592.10,122.78 L593.18,122.30 L594.25,121.82 L595.32,121.34 L596.40,120.86 L597.47,120.38 L598.54,119.90 L599.62,119.42 L600.69,118.94 L601.77,118.47 L602.84,117.99 L603.91,117.52 L604.99,117.05 L606.06,116.57 L607.13,116.10 L608.21,115.63 L609.28,115.17 L610.35,114.70 L611.43,114.23 L612.50,113.77 L613.58,113.30 L614.65,112.84 L615.72,112.38 L616.80,111.92 L617.87,111.46 L618.94,111.00 L620.02,110.55 L621.09,110.09 L622.17,109.64 L623.24,109.18 L624.31,108.73 L625.39,108.28 L626.46,107.83 L627.53,107.38 L628.61,106.94 L629.68,106.49 L630.75,106.05 L631.83,105.60 L632.90,105.16 L633.98,104.72 L635.05,104.29 L636.12,103.85 L637.20,103.41 L638.27,102.98 L639.34,102.55 L640.42,102.11 L641.49,101.69 L642.56,101.26 L643.64,100.83 L644.71,100.41 L645.79,99.98 L646.86,99.56 L647.93,99.14 L649.01,98.72 L650.08,98.31 L651.15,97.89 L652.23,97.48 L653.30,97.07 L654.38,96.66 L655.45,96.25 L656.52,95.84 L657.60,95.44 L658.67,95.04 L659.74,94.64 L660.82,94.24 L661.89,93.84 L662.96,93.45 L664.04,93.06 L665.11,92.67 L666.19,92.28 L667.26,91.89 L668.33,91.51 L669.41,91.13 L670.48,90.75 L671.55,90.37 L672.63,90.00 L673.70,89.62 L674.77,89.25 L675.85,88.88 L676.92,88.52 L678.00,88.15 L679.07,87.79 L680.14,87.43 L681.22,87.08 L682.29,86.72 L683.36,86.37 L684.44,86.02 L685.51,85.68 L686.59,85.33 L687.66,84.99 L688.73,84.65 L689.81,84.31 L690.88,83.98 L691.95,83.65 L693.03,83.32 L694.10,83.00 L695.17,82.67 L696.25,82.35 L697.32,82.03 L698.40,81.72 L699.47,81.41 L700.54,81.10 L701.62,80.79 L702.69,80.49 L703.76,80.19 L704.84,79.89 L705.91,79.59 L706.98,79.30 L708.06,79.01 L709.13,78.73 L710.21,78.44 L711.28,78.16 L712.35,77.88 L713.43,77.61 L714.50,77.34 L715.57,77.07 L716.65,76.80 L717.72,76.54 L718.80,76.28 L719.87,76.02 L720.94,75.77 L722.02,75.52 L723.09,75.27 L724.16,75.03 L725.24,74.78 L726.31,74.55 L727.38,74.31 L728.46,74.08 L729.53,73.85 L730.61,73.62 L731.68,73.40 L732.75,73.17 L733.83,72.96 L734.90,72.74 L735.97,72.53 L737.05,72.32 L738.12,72.11 L739.19,71.91 L740.27,71.71 L741.34,71.51 L742.42,71.32 L743.49,71.13 L744.56,70.94 L745.64,70.75 L746.71,70.57 L747.78,70.39 L748.86,70.21 L749.93,70.03 L751.01,69.86 L752.08,69.69 L753.15,69.52 L754.23,69.36 L755.30,69.20" stroke="#ff0000" stroke-width="2.8" stroke-dasharray="2.6,3.5"/>
</g>
<rect x="111.10" y="43.20" width="644.20" height="668.70" fill="none" stroke="#000" stroke-width="2.1" stroke-linejoin="round"/>
<path d="M159.58,43.20 v8.1 M159.58,711.90 v-8.1 M187.94,43.20 v8.1 M187.94,711.90 v-8.1 M208.06,43.20 v8.1 M208.06,711.90 v-8.1 M223.67,43.20 v8.1 M223.67,711.90 v-8.1 M236.42,43.20 v8.1 M236.42,711.90 v-8.1 M247.20,43.20 v8.1 M247.20,711.90 v-8.1 M256.54,43.20 v8.1 M256.54,711.90 v-8.1 M264.78,43.20 v8.1 M264.78,711.90 v-8.1 M272.15,43.20 v17.3 M272.15,711.90 v-17.3 M320.63,43.20 v8.1 M320.63,711.90 v-8.1 M348.99,43.20 v8.1 M348.99,711.90 v-8.1 M369.11,43.20 v8.1 M369.11,711.90 v-8.1 M384.72,43.20 v8.1 M384.72,711.90 v-8.1 M397.47,43.20 v8.1 M397.47,711.90 v-8.1 M408.25,43.20 v8.1 M408.25,711.90 v-8.1 M417.59,43.20 v8.1 M417.59,711.90 v-8.1 M425.83,43.20 v8.1 M425.83,711.90 v-8.1 M433.20,43.20 v17.3 M433.20,711.90 v-17.3 M481.68,43.20 v8.1 M481.68,711.90 v-8.1 M510.04,43.20 v8.1 M510.04,711.90 v-8.1 M530.16,43.20 v8.1 M530.16,711.90 v-8.1 M545.77,43.20 v8.1 M545.77,711.90 v-8.1 M558.52,43.20 v8.1 M558.52,711.90 v-8.1 M569.30,43.20 v8.1 M569.30,711.90 v-8.1 M578.64,43.20 v8.1 M578.64,711.90 v-8.1 M586.88,43.20 v8.1 M586.88,711.90 v-8.1 M594.25,43.20 v17.3 M594.25,711.90 v-17.3 M642.73,43.20 v8.1 M642.73,711.90 v-8.1 M671.09,43.20 v8.1 M671.09,711.90 v-8.1 M691.21,43.20 v8.1 M691.21,711.90 v-8.1 M706.82,43.20 v8.1 M706.82,711.90 v-8.1 M719.57,43.20 v8.1 M719.57,711.90 v-8.1 M730.35,43.20 v8.1 M730.35,711.90 v-8.1 M739.69,43.20 v8.1 M739.69,711.90 v-8.1 M747.93,43.20 v8.1 M747.93,711.90 v-8.1 M111.10,667.32 h8.1 M755.30,667.32 h-8.1 M111.10,622.74 h17.3 M755.30,622.74 h-17.3 M111.10,578.16 h8.1 M755.30,578.16 h-8.1 M111.10,533.58 h8.1 M755.30,533.58 h-8.1 M111.10,489.00 h8.1 M755.30,489.00 h-8.1 M111.10,444.42 h8.1 M755.30,444.42 h-8.1 M111.10,399.84 h17.3 M755.30,399.84 h-17.3 M111.10,355.26 h8.1 M755.30,355.26 h-8.1 M111.10,310.68 h8.1 M755.30,310.68 h-8.1 M111.10,266.10 h8.1 M755.30,266.10 h-8.1 M111.10,221.52 h8.1 M755.30,221.52 h-8.1 M111.10,176.94 h17.3 M755.30,176.94 h-17.3 M111.10,132.36 h8.1 M755.30,132.36 h-8.1 M111.10,87.78 h8.1 M755.30,87.78 h-8.1" stroke="#000" stroke-width="2.1" fill="none" stroke-linecap="round"/>
<path d="M424.50,345.90 L335.80,243.30" stroke="#000" stroke-width="2.05" fill="none" stroke-linecap="round"/><path d="M342.22,254.95 L335.80,243.30 L346.40,251.33 L342.54,251.09 Z" stroke="#000" stroke-width="1.6" stroke-linejoin="round" fill="#000"/>
<path d="M424.50,390.10 L326.80,287.10" stroke="#000" stroke-width="2.05" fill="none" stroke-linecap="round"/><path d="M333.75,298.44 L326.80,287.10 L337.76,294.64 L333.89,294.57 Z" stroke="#000" stroke-width="1.6" stroke-linejoin="round" fill="#000"/>
<path d="M424.50,434.80 L327.40,332.10" stroke="#000" stroke-width="2.05" fill="none" stroke-linecap="round"/><path d="M334.33,343.45 L327.40,332.10 L338.35,339.65 L334.48,339.58 Z" stroke="#000" stroke-width="1.6" stroke-linejoin="round" fill="#000"/>
<path d="M569.80,346.10 L610.10,143.30" stroke="#000" stroke-width="2.05" fill="none" stroke-linecap="round"/><path d="M604.85,155.52 L610.10,143.30 L610.28,156.60 L608.09,153.40 Z" stroke="#000" stroke-width="1.6" stroke-linejoin="round" fill="#000"/>
<path d="M569.80,390.40 L674.30,113.20" stroke="#000" stroke-width="2.05" fill="none" stroke-linecap="round"/><path d="M667.12,124.40 L674.30,113.20 L672.30,126.35 L670.67,122.84 Z" stroke="#000" stroke-width="1.6" stroke-linejoin="round" fill="#000"/>
<path d="M578.00,435.40 L739.60,73.70" stroke="#000" stroke-width="2.05" fill="none" stroke-linecap="round"/><path d="M731.77,84.45 L739.60,73.70 L736.82,86.71 L735.40,83.10 Z" stroke="#000" stroke-width="1.6" stroke-linejoin="round" fill="#000"/>
<path transform="translate(111.10,745.95) translate(-29.07,0)" d="M9.46,-18.06 L9.46,0.00 M8.60,-17.20 L8.60,0.00 M5.68,0.00 L12.21,0.00 M6.88,-15.48 L9.46,-18.06 M5.16,-14.62 L6.88,-15.48 M19.78,-9.46 L20.64,-14.62 M19.78,-8.60 L20.64,-3.44 M20.64,-9.46 L21.50,-14.62 M20.64,-8.60 L21.50,-3.44 M30.10,-14.62 L30.96,-10.32 M30.10,-3.44 L30.96,-7.74 M30.96,-14.62 L31.82,-10.32 M30.96,-3.44 L31.82,-7.74 M20.64,-14.62 L22.36,-17.20 M20.64,-3.44 L22.36,-0.86 M29.24,-17.20 L30.96,-14.62 M29.24,-0.86 L30.96,-3.44 M22.36,-17.20 L24.94,-18.06 M22.36,-0.86 L24.94,0.00 M26.66,-18.06 L29.24,-17.20 M26.66,0.00 L29.24,-0.86 M30.96,-10.32 L30.96,-7.74 M31.82,-10.32 L31.82,-7.74 M21.50,-14.62 L22.36,-16.34 M21.50,-3.44 L22.36,-1.72 M29.24,-16.34 L30.10,-14.62 M29.24,-1.72 L30.10,-3.44 M24.94,-18.06 L26.66,-18.06 M24.94,0.00 L26.66,0.00 M22.36,-16.34 L23.22,-17.20 M22.36,-1.72 L23.22,-0.86 M28.38,-17.20 L29.24,-16.34 M28.38,-0.86 L29.24,-1.72 M19.78,-9.46 L19.78,-8.60 M20.64,-9.46 L20.64,-8.60 M26.66,0.00 L28.38,-0.86 M26.66,-18.06 L28.38,-17.20 M23.22,-0.86 L24.94,0.00 M23.22,-17.20 L24.94,-18.06 M37.08,-12.73 L45.13,-12.73 M50.91,-12.21 L54.52,-13.76 M50.91,-9.63 L53.49,-8.08 M52.98,-13.24 L55.56,-14.79 M50.91,-9.63 L53.49,-8.60 M51.94,-18.92 L54.01,-18.92 M53.49,-8.08 L55.56,-8.08 M54.52,-13.76 L56.07,-14.79 M49.36,-9.63 L49.88,-11.18 M50.40,-18.40 L51.94,-18.92 M54.01,-18.92 L55.56,-18.40 M49.36,-9.63 L49.36,-8.08 M53.49,-8.60 L55.04,-8.60 M49.88,-11.18 L50.91,-12.21 M49.36,-16.86 L49.88,-17.89 M55.04,-8.60 L56.07,-9.12 M55.56,-17.89 L56.07,-16.86 M55.56,-14.79 L56.07,-15.82 M56.07,-17.89 L56.59,-16.86 M56.07,-14.79 L56.59,-15.82 M56.07,-8.60 L56.59,-9.63 M49.88,-9.63 L50.91,-9.63 M56.07,-16.86 L56.07,-15.82 M56.59,-16.86 L56.59,-15.82 M56.59,-10.66 L56.59,-9.63 M49.36,-16.34 L49.88,-15.82 M49.36,-9.12 L49.88,-9.63 M49.88,-17.89 L50.40,-18.40 M49.88,-16.86 L50.40,-16.34 M49.88,-15.82 L50.40,-16.34 M55.04,-18.40 L55.56,-17.89 M55.56,-18.40 L56.07,-17.89 M55.56,-8.08 L56.07,-8.60 M49.36,-16.86 L49.36,-16.34 M56.07,-9.12 L56.59,-9.63 M54.01,-18.92 L55.04,-18.40 M51.94,-12.73 L52.98,-13.24" fill="none" stroke="#000" stroke-width="2.10" stroke-linecap="round" stroke-linejoin="round"/>
<path transform="translate(272.15,745.95) translate(-29.07,0)" d="M9.46,-18.06 L9.46,0.00 M8.60,-17.20 L8.60,0.00 M5.68,0.00 L12.21,0.00 M6.88,-15.48 L9.46,-18.06 M5.16,-14.62 L6.88,-15.48 M19.78,-9.46 L20.64,-14.62 M19.78,-8.60 L20.64,-3.44 M20.64,-9.46 L21.50,-14.62 M20.64,-8.60 L21.50,-3.44 M30.10,-14.62 L30.96,-10.32 M30.10,-3.44 L30.96,-7.74 M30.96,-14.62 L31.82,-10.32 M30.96,-3.44 L31.82,-7.74 M20.64,-14.62 L22.36,-17.20 M20.64,-3.44 L22.36,-0.86 M29.24,-17.20 L30.96,-14.62 M29.24,-0.86 L30.96,-3.44 M22.36,-17.20 L24.94,-18.06 M22.36,-0.86 L24.94,0.00 M26.66,-18.06 L29.24,-17.20 M26.66,0.00 L29.24,-0.86 M30.96,-10.32 L30.96,-7.74 M31.82,-10.32 L31.82,-7.74 M21.50,-14.62 L22.36,-16.34 M21.50,-3.44 L22.36,-1.72 M29.24,-16.34 L30.10,-14.62 M29.24,-1.72 L30.10,-3.44 M24.94,-18.06 L26.66,-18.06 M24.94,0.00 L26.66,0.00 M22.36,-16.34 L23.22,-17.20 M22.36,-1.72 L23.22,-0.86 M28.38,-17.20 L29.24,-16.34 M28.38,-0.86 L29.24,-1.72 M19.78,-9.46 L19.78,-8.60 M20.64,-9.46 L20.64,-8.60 M26.66,0.00 L28.38,-0.86 M26.66,-18.06 L28.38,-17.20 M23.22,-0.86 L24.94,0.00 M23.22,-17.20 L24.94,-18.06 M37.08,-12.73 L45.13,-12.73 M53.49,-18.92 L53.49,-8.08 M52.98,-18.40 L52.98,-8.08 M51.22,-8.08 L55.14,-8.08 M51.94,-17.37 L53.49,-18.92 M50.91,-16.86 L51.94,-17.37" fill="none" stroke="#000" stroke-width="2.10" stroke-linecap="round" stroke-linejoin="round"/>
<path transform="translate(433.20,745.95) translate(-8.60,0)" d="M9.46,-18.06 L9.46,0.00 M8.60,-17.20 L8.60,0.00 M5.68,0.00 L12.21,0.00 M6.88,-15.48 L9.46,-18.06 M5.16,-14.62 L6.88,-15.48" fill="none" stroke="#000" stroke-width="2.10" stroke-linecap="round" stroke-linejoin="round"/>
<path transform="translate(594.25,745.95) translate(-17.20,0)" d="M9.46,-18.06 L9.46,0.00 M8.60,-17.20 L8.60,0.00 M5.68,0.00 L12.21,0.00 M6.88,-15.48 L9.46,-18.06 M5.16,-14.62 L6.88,-15.48 M19.78,-9.46 L20.64,-14.62 M19.78,-8.60 L20.64,-3.44 M20.64,-9.46 L21.50,-14.62 M20.64,-8.60 L21.50,-3.44 M30.10,-14.62 L30.96,-10.32 M30.10,-3.44 L30.96,-7.74 M30.96,-14.62 L31.82,-10.32 M30.96,-3.44 L31.82,-7.74 M20.64,-14.62 L22.36,-17.20 M20.64,-3.44 L22.36,-0.86 M29.24,-17.20 L30.96,-14.62 M29.24,-0.86 L30.96,-3.44 M22.36,-17.20 L24.94,-18.06 M22.36,-0.86 L24.94,0.00 M26.66,-18.06 L29.24,-17.20 M26.66,0.00 L29.24,-0.86 M30.96,-10.32 L30.96,-7.74 M31.82,-10.32 L31.82,-7.74 M21.50,-14.62 L22.36,-16.34 M21.50,-3.44 L22.36,-1.72 M29.24,-16.34 L30.10,-14.62 M29.24,-1.72 L30.10,-3.44 M24.94,-18.06 L26.66,-18.06 M24.94,0.00 L26.66,0.00 M22.36,-16.34 L23.22,-17.20 M22.36,-1.72 L23.22,-0.86 M28.38,-17.20 L29.24,-16.34 M28.38,-0.86 L29.24,-1.72 M19.78,-9.46 L19.78,-8.60 M20.64,-9.46 L20.64,-8.60 M26.66,0.00 L28.38,-0.86 M26.66,-18.06 L28.38,-17.20 M23.22,-0.86 L24.94,0.00 M23.22,-17.20 L24.94,-18.06" fill="none" stroke="#000" stroke-width="2.10" stroke-linecap="round" stroke-linejoin="round"/>
<path transform="translate(755.30,745.95) translate(-22.36,0)" d="M9.46,-18.06 L9.46,0.00 M8.60,-17.20 L8.60,0.00 M5.68,0.00 L12.21,0.00 M6.88,-15.48 L9.46,-18.06 M5.16,-14.62 L6.88,-15.48 M19.78,-9.46 L20.64,-14.62 M19.78,-8.60 L20.64,-3.44 M20.64,-9.46 L21.50,-14.62 M20.64,-8.60 L21.50,-3.44 M30.10,-14.62 L30.96,-10.32 M30.10,-3.44 L30.96,-7.74 M30.96,-14.62 L31.82,-10.32 M30.96,-3.44 L31.82,-7.74 M20.64,-14.62 L22.36,-17.20 M20.64,-3.44 L22.36,-0.86 M29.24,-17.20 L30.96,-14.62 M29.24,-0.86 L30.96,-3.44 M22.36,-17.20 L24.94,-18.06 M22.36,-0.86 L24.94,0.00 M26.66,-18.06 L29.24,-17.20 M26.66,0.00 L29.24,-0.86 M30.96,-10.32 L30.96,-7.74 M31.82,-10.32 L31.82,-7.74 M21.50,-14.62 L22.36,-16.34 M21.50,-3.44 L22.36,-1.72 M29.24,-16.34 L30.10,-14.62 M29.24,-1.72 L30.10,-3.44 M24.94,-18.06 L26.66,-18.06 M24.94,0.00 L26.66,0.00 M22.36,-16.34 L23.22,-17.20 M22.36,-1.72 L23.22,-0.86 M28.38,-17.20 L29.24,-16.34 M28.38,-0.86 L29.24,-1.72 M19.78,-9.46 L19.78,-8.60 M20.64,-9.46 L20.64,-8.60 M26.66,0.00 L28.38,-0.86 M26.66,-18.06 L28.38,-17.20 M23.22,-0.86 L24.94,0.00 M23.22,-17.20 L24.94,-18.06 M37.50,-12.21 L41.11,-13.76 M37.50,-9.63 L40.08,-8.08 M39.56,-13.24 L42.14,-14.79 M37.50,-9.63 L40.08,-8.60 M38.53,-18.92 L40.59,-18.92 M40.08,-8.08 L42.14,-8.08 M41.11,-13.76 L42.66,-14.79 M35.95,-9.63 L36.46,-11.18 M36.98,-18.40 L38.53,-18.92 M40.59,-18.92 L42.14,-18.40 M35.95,-9.63 L35.95,-8.08 M40.08,-8.60 L41.62,-8.60 M36.46,-11.18 L37.50,-12.21 M35.95,-16.86 L36.46,-17.89 M41.62,-8.60 L42.66,-9.12 M42.14,-17.89 L42.66,-16.86 M42.14,-14.79 L42.66,-15.82 M42.66,-17.89 L43.17,-16.86 M42.66,-14.79 L43.17,-15.82 M42.66,-8.60 L43.17,-9.63 M36.46,-9.63 L37.50,-9.63 M42.66,-16.86 L42.66,-15.82 M43.17,-16.86 L43.17,-15.82 M43.17,-10.66 L43.17,-9.63 M35.95,-16.34 L36.46,-15.82 M35.95,-9.12 L36.46,-9.63 M36.46,-17.89 L36.98,-18.40 M36.46,-16.86 L36.98,-16.34 M36.46,-15.82 L36.98,-16.34 M41.62,-18.40 L42.14,-17.89 M42.14,-18.40 L42.66,-17.89 M42.14,-8.08 L42.66,-8.60 M35.95,-16.86 L35.95,-16.34 M42.66,-9.12 L43.17,-9.63 M40.59,-18.92 L41.62,-18.40 M38.53,-12.73 L39.56,-13.24" fill="none" stroke="#000" stroke-width="2.10" stroke-linecap="round" stroke-linejoin="round"/>
<path transform="translate(95.40,186.04) translate(-17.20,0)" d="M2.58,-9.46 L3.44,-14.62 M2.58,-8.60 L3.44,-3.44 M3.44,-9.46 L4.30,-14.62 M3.44,-8.60 L4.30,-3.44 M12.90,-14.62 L13.76,-10.32 M12.90,-3.44 L13.76,-7.74 M13.76,-14.62 L14.62,-10.32 M13.76,-3.44 L14.62,-7.74 M3.44,-14.62 L5.16,-17.20 M3.44,-3.44 L5.16,-0.86 M12.04,-17.20 L13.76,-14.62 M12.04,-0.86 L13.76,-3.44 M5.16,-17.20 L7.74,-18.06 M5.16,-0.86 L7.74,0.00 M9.46,-18.06 L12.04,-17.20 M9.46,0.00 L12.04,-0.86 M13.76,-10.32 L13.76,-7.74 M14.62,-10.32 L14.62,-7.74 M4.30,-14.62 L5.16,-16.34 M4.30,-3.44 L5.16,-1.72 M12.04,-16.34 L12.90,-14.62 M12.04,-1.72 L12.90,-3.44 M7.74,-18.06 L9.46,-18.06 M7.74,0.00 L9.46,0.00 M5.16,-16.34 L6.02,-17.20 M5.16,-1.72 L6.02,-0.86 M11.18,-17.20 L12.04,-16.34 M11.18,-0.86 L12.04,-1.72 M2.58,-9.46 L2.58,-8.60 M3.44,-9.46 L3.44,-8.60 M9.46,0.00 L11.18,-0.86 M9.46,-18.06 L11.18,-17.20 M6.02,-0.86 L7.74,0.00 M6.02,-17.20 L7.74,-18.06" fill="none" stroke="#000" stroke-width="2.10" stroke-linecap="round" stroke-linejoin="round"/>
<path transform="translate(95.40,408.94) translate(-39.56,0)" d="M4.47,-7.74 L17.89,-7.74 M24.94,-9.46 L26.66,-18.06 M26.66,-18.06 L35.26,-18.06 M30.10,-17.20 L35.26,-18.06 M26.66,-17.20 L30.96,-17.20 M26.66,-11.18 L29.24,-12.04 M26.66,-0.86 L29.24,0.00 M31.82,-12.04 L34.40,-11.18 M31.82,0.00 L34.40,-0.86 M35.26,-9.46 L36.12,-6.88 M35.26,-2.58 L36.12,-5.16 M36.12,-9.46 L36.98,-6.88 M36.12,-2.58 L36.98,-5.16 M29.24,-12.04 L31.82,-12.04 M29.24,0.00 L31.82,0.00 M24.94,-9.46 L26.66,-11.18 M33.54,-11.18 L35.26,-9.46 M33.54,-0.86 L35.26,-2.58 M34.40,-11.18 L36.12,-9.46 M34.40,-0.86 L36.12,-2.58 M24.94,-3.44 L25.80,-1.72 M36.12,-6.88 L36.12,-5.16 M36.98,-6.88 L36.98,-5.16 M24.94,-4.30 L25.80,-5.16 M25.80,-5.16 L26.66,-4.30 M25.80,-3.44 L26.66,-4.30 M25.80,-1.72 L26.66,-0.86 M24.94,-4.30 L24.94,-3.44 M31.82,0.00 L33.54,-0.86 M31.82,-12.04 L33.54,-11.18" fill="none" stroke="#000" stroke-width="2.10" stroke-linecap="round" stroke-linejoin="round"/>
<path transform="translate(95.40,631.84) translate(-56.76,0)" d="M4.47,-7.74 L17.89,-7.74 M31.82,-18.06 L31.82,0.00 M30.96,-17.20 L30.96,0.00 M28.04,0.00 L34.57,0.00 M29.24,-15.48 L31.82,-18.06 M27.52,-14.62 L29.24,-15.48 M42.14,-9.46 L43.00,-14.62 M42.14,-8.60 L43.00,-3.44 M43.00,-9.46 L43.86,-14.62 M43.00,-8.60 L43.86,-3.44 M52.46,-14.62 L53.32,-10.32 M52.46,-3.44 L53.32,-7.74 M53.32,-14.62 L54.18,-10.32 M53.32,-3.44 L54.18,-7.74 M43.00,-14.62 L44.72,-17.20 M43.00,-3.44 L44.72,-0.86 M51.60,-17.20 L53.32,-14.62 M51.60,-0.86 L53.32,-3.44 M44.72,-17.20 L47.30,-18.06 M44.72,-0.86 L47.30,0.00 M49.02,-18.06 L51.60,-17.20 M49.02,0.00 L51.60,-0.86 M53.32,-10.32 L53.32,-7.74 M54.18,-10.32 L54.18,-7.74 M43.86,-14.62 L44.72,-16.34 M43.86,-3.44 L44.72,-1.72 M51.60,-16.34 L52.46,-14.62 M51.60,-1.72 L52.46,-3.44 M47.30,-18.06 L49.02,-18.06 M47.30,0.00 L49.02,0.00 M44.72,-16.34 L45.58,-17.20 M44.72,-1.72 L45.58,-0.86 M50.74,-17.20 L51.60,-16.34 M50.74,-0.86 L51.60,-1.72 M42.14,-9.46 L42.14,-8.60 M43.00,-9.46 L43.00,-8.60 M49.02,0.00 L50.74,-0.86 M49.02,-18.06 L50.74,-17.20 M45.58,-0.86 L47.30,0.00 M45.58,-17.20 L47.30,-18.06" fill="none" stroke="#000" stroke-width="2.10" stroke-linecap="round" stroke-linejoin="round"/>
<path transform="translate(25.60,377.55) rotate(-90.00) translate(-69.66,0)" d="M4.30,-18.06 L4.30,0.00 M5.16,-18.06 L5.16,0.00 M1.72,0.00 L7.74,0.00 M1.72,-18.06 L5.16,-18.06 M12.04,-6.88 L12.90,-9.46 M12.04,-5.16 L12.90,-2.58 M12.90,-6.88 L13.76,-9.46 M12.90,-5.16 L13.76,-2.58 M14.62,-11.18 L17.20,-12.04 M14.62,-0.86 L17.20,0.00 M18.92,-12.04 L21.50,-11.18 M18.92,0.00 L21.50,-0.86 M22.36,-9.46 L23.22,-6.88 M22.36,-2.58 L23.22,-5.16 M23.22,-9.46 L24.08,-6.88 M23.22,-2.58 L24.08,-5.16 M12.90,-9.46 L14.62,-11.18 M12.90,-2.58 L14.62,-0.86 M13.76,-9.46 L15.48,-11.18 M13.76,-2.58 L15.48,-0.86 M20.64,-11.18 L22.36,-9.46 M20.64,-0.86 L22.36,-2.58 M21.50,-11.18 L23.22,-9.46 M21.50,-0.86 L23.22,-2.58 M12.04,-6.88 L12.04,-5.16 M12.90,-6.88 L12.90,-5.16 M17.20,-12.04 L18.92,-12.04 M17.20,0.00 L18.92,0.00 M23.22,-6.88 L23.22,-5.16 M24.08,-6.88 L24.08,-5.16 M18.92,0.00 L20.64,-0.86 M18.92,-12.04 L20.64,-11.18 M15.48,-0.86 L17.20,0.00 M15.48,-11.18 L17.20,-12.04 M30.96,-10.32 L30.96,-5.16 M31.82,6.02 L36.98,6.02 M37.84,-10.32 L37.84,-5.16 M32.68,0.00 L36.98,0.00 M32.68,0.86 L36.98,0.86 M30.10,-8.60 L31.82,-11.18 M30.10,-6.88 L31.82,-4.30 M36.98,-11.18 L38.70,-8.60 M36.98,-4.30 L38.70,-6.88 M29.24,0.86 L31.82,0.00 M29.24,5.16 L31.82,6.02 M30.10,-0.86 L32.68,0.00 M30.10,0.00 L32.68,0.86 M36.98,0.00 L39.56,0.86 M36.98,0.86 L39.56,1.72 M36.98,6.02 L39.56,5.16 M28.38,2.58 L29.24,0.86 M28.38,3.44 L29.24,5.16 M29.24,-2.58 L30.10,-4.30 M29.24,-1.72 L30.10,0.00 M31.82,-11.18 L33.54,-12.04 M31.82,-4.30 L33.54,-3.44 M35.26,-12.04 L36.98,-11.18 M35.26,-3.44 L36.98,-4.30 M38.70,-11.18 L40.42,-12.04 M39.56,0.86 L40.42,2.58 M39.56,5.16 L40.42,3.44 M30.10,-8.60 L30.10,-6.88 M33.54,-12.04 L35.26,-12.04 M33.54,-3.44 L35.26,-3.44 M38.70,-11.18 L40.42,-11.18 M38.70,-8.60 L38.70,-6.88 M30.10,-4.30 L30.96,-5.16 M37.84,-10.32 L38.70,-11.18 M28.38,2.58 L28.38,3.44 M29.24,-2.58 L29.24,-1.72 M40.42,-12.04 L40.42,-11.18 M40.42,2.58 L40.42,3.44 M39.56,1.72 L40.42,2.58 M29.24,-1.72 L30.10,-0.86 M37.84,-5.16 L38.70,-6.88 M36.98,-11.18 L37.84,-9.46 M30.96,-9.46 L31.82,-11.18 M30.10,-6.88 L30.96,-5.16 M47.30,-9.46 L49.02,-17.20 M47.30,-13.76 L50.74,-19.78 M46.44,-8.60 L47.30,-13.76 M46.44,-6.88 L47.30,-1.72 M47.30,-6.88 L48.16,-1.72 M48.16,0.00 L50.74,4.30 M47.30,-1.72 L49.02,1.72 M46.44,-9.46 L46.44,-6.02 M47.30,-9.46 L47.30,-6.02 M48.16,-1.72 L49.02,0.86 M50.74,-19.78 L52.46,-21.50 M50.74,4.30 L52.46,6.02 M49.02,-16.34 L49.88,-18.06 M49.02,0.86 L49.88,2.58 M49.02,-17.20 L49.88,-18.06 M67.08,-2.58 L67.94,3.44 M67.08,-0.86 L68.80,2.58 M57.62,-10.32 L58.48,-13.76 M57.62,-7.74 L58.48,-4.30 M58.48,-10.32 L59.34,-13.76 M58.48,-7.74 L59.34,-4.30 M69.66,-13.76 L70.52,-10.32 M69.66,-4.30 L70.52,-7.74 M70.52,-13.76 L71.38,-10.32 M70.52,-4.30 L71.38,-7.74 M61.06,-17.20 L63.64,-18.06 M61.06,-0.86 L63.64,0.00 M65.36,-18.06 L67.94,-17.20 M65.36,0.00 L67.94,-0.86 M57.62,-10.32 L57.62,-7.74 M58.48,-10.32 L58.48,-7.74 M70.52,-10.32 L70.52,-7.74 M71.38,-10.32 L71.38,-7.74 M59.34,-15.48 L61.06,-17.20 M59.34,-2.58 L61.06,-0.86 M60.20,-15.48 L61.92,-17.20 M60.20,-2.58 L61.92,-0.86 M67.08,-17.20 L68.80,-15.48 M67.08,-0.86 L68.80,-2.58 M67.94,-17.20 L69.66,-15.48 M67.94,-0.86 L69.66,-2.58 M58.48,-13.76 L59.34,-15.48 M58.48,-4.30 L59.34,-2.58 M59.34,-13.76 L60.20,-15.48 M59.34,-4.30 L60.20,-2.58 M61.06,-2.58 L61.92,-4.30 M61.92,-4.30 L63.64,-5.16 M64.50,-5.16 L66.22,-4.30 M66.22,-4.30 L67.08,-2.58 M68.80,-15.48 L69.66,-13.76 M68.80,-2.58 L69.66,-4.30 M69.66,-15.48 L70.52,-13.76 M69.66,-2.58 L70.52,-4.30 M70.52,4.30 L71.38,2.58 M63.64,-18.06 L65.36,-18.06 M63.64,0.00 L65.36,0.00 M68.80,4.30 L70.52,4.30 M67.94,3.44 L68.80,4.30 M68.80,2.58 L69.66,3.44 M70.52,3.44 L71.38,2.58 M61.06,-2.58 L61.06,-1.72 M63.64,-5.16 L64.50,-5.16 M69.66,3.44 L70.52,3.44 M71.38,1.72 L71.38,2.58 M67.08,-0.86 L67.94,-0.86 M65.36,0.00 L67.08,-0.86 M65.36,-18.06 L67.08,-17.20 M61.92,-0.86 L63.64,0.00 M61.92,-17.20 L63.64,-18.06 M67.08,-2.58 L67.94,0.86 M76.54,0.52 L76.54,7.74 M77.06,0.52 L77.06,7.74 M74.99,7.74 L78.60,7.74 M74.99,0.52 L77.06,0.52 M76.02,-2.58 L76.54,-3.10 M76.02,-2.58 L76.54,-2.06 M76.54,-3.10 L77.06,-2.58 M76.54,-2.06 L77.06,-2.58 M81.36,6.02 L96.84,-21.50 M110.60,-2.58 L111.46,3.44 M110.60,-0.86 L112.32,2.58 M101.14,-10.32 L102.00,-13.76 M101.14,-7.74 L102.00,-4.30 M102.00,-10.32 L102.86,-13.76 M102.00,-7.74 L102.86,-4.30 M113.18,-13.76 L114.04,-10.32 M113.18,-4.30 L114.04,-7.74 M114.04,-13.76 L114.90,-10.32 M114.04,-4.30 L114.90,-7.74 M104.58,-17.20 L107.16,-18.06 M104.58,-0.86 L107.16,0.00 M108.88,-18.06 L111.46,-17.20 M108.88,0.00 L111.46,-0.86 M101.14,-10.32 L101.14,-7.74 M102.00,-10.32 L102.00,-7.74 M114.04,-10.32 L114.04,-7.74 M114.90,-10.32 L114.90,-7.74 M102.86,-15.48 L104.58,-17.20 M102.86,-2.58 L104.58,-0.86 M103.72,-15.48 L105.44,-17.20 M103.72,-2.58 L105.44,-0.86 M110.60,-17.20 L112.32,-15.48 M110.60,-0.86 L112.32,-2.58 M111.46,-17.20 L113.18,-15.48 M111.46,-0.86 L113.18,-2.58 M102.00,-13.76 L102.86,-15.48 M102.00,-4.30 L102.86,-2.58 M102.86,-13.76 L103.72,-15.48 M102.86,-4.30 L103.72,-2.58 M104.58,-2.58 L105.44,-4.30 M105.44,-4.30 L107.16,-5.16 M108.02,-5.16 L109.74,-4.30 M109.74,-4.30 L110.60,-2.58 M112.32,-15.48 L113.18,-13.76 M112.32,-2.58 L113.18,-4.30 M113.18,-15.48 L114.04,-13.76 M113.18,-2.58 L114.04,-4.30 M114.04,4.30 L114.90,2.58 M107.16,-18.06 L108.88,-18.06 M107.16,0.00 L108.88,0.00 M112.32,4.30 L114.04,4.30 M111.46,3.44 L112.32,4.30 M112.32,2.58 L113.18,3.44 M114.04,3.44 L114.90,2.58 M104.58,-2.58 L104.58,-1.72 M107.16,-5.16 L108.02,-5.16 M113.18,3.44 L114.04,3.44 M114.90,1.72 L114.90,2.58 M110.60,-0.86 L111.46,-0.86 M108.88,0.00 L110.60,-0.86 M108.88,-18.06 L110.60,-17.20 M105.44,-0.86 L107.16,0.00 M105.44,-17.20 L107.16,-18.06 M110.60,-2.58 L111.46,0.86 M119.54,3.61 L125.73,3.61 M125.22,1.55 L125.22,3.61 M124.70,1.03 L125.73,2.58 M119.02,3.61 L119.54,2.06 M119.02,4.64 L119.54,6.19 M119.54,3.61 L120.06,2.06 M119.54,4.64 L120.06,6.19 M120.57,1.03 L122.12,0.52 M120.57,7.22 L122.12,7.74 M123.15,7.74 L124.70,7.22 M122.12,0.52 L123.67,0.52 M119.54,2.06 L120.57,1.03 M119.54,6.19 L120.57,7.22 M120.06,2.06 L121.09,1.03 M120.06,6.19 L121.09,7.22 M124.70,7.22 L125.73,6.19 M123.67,0.52 L124.70,1.03 M119.02,3.61 L119.02,4.64 M119.54,3.61 L119.54,4.64 M122.12,7.74 L123.15,7.74 M125.73,2.58 L125.73,3.61 M124.70,1.03 L125.22,2.06 M121.09,7.22 L122.12,7.74 M121.09,1.03 L122.12,0.52 M133.30,-17.20 L135.02,-9.46 M131.58,-19.78 L135.02,-13.76 M131.58,4.30 L134.16,0.00 M134.16,-1.72 L135.02,-6.02 M135.02,-13.76 L135.88,-9.46 M135.02,-1.72 L135.88,-6.02 M133.30,1.72 L135.02,-1.72 M135.02,-9.46 L135.02,-6.02 M135.88,-9.46 L135.88,-6.02 M133.30,0.86 L134.16,-1.72 M129.86,-21.50 L131.58,-19.78 M129.86,6.02 L131.58,4.30 M132.44,-18.06 L133.30,-16.34 M132.44,2.58 L133.30,0.86 M132.44,-18.06 L133.30,-17.20" fill="none" stroke="#000" stroke-width="2.10" stroke-linecap="round" stroke-linejoin="round"/>
<path transform="translate(433.30,355.30) translate(0.00,0)" d="M7.74,-18.06 L7.74,0.00 M8.60,-18.06 L8.60,0.00 M1.72,-18.06 L14.62,-18.06 M5.16,0.00 L11.18,0.00 M1.72,-12.90 L2.58,-18.06 M13.76,-18.06 L14.62,-12.90 M1.72,-18.06 L1.72,-12.90 M14.62,-18.06 L14.62,-12.90 M18.92,0.52 L18.92,7.74 M19.44,0.52 L19.44,7.74 M17.37,7.74 L20.98,7.74 M17.37,0.52 L19.44,0.52 M18.40,-2.58 L18.92,-3.10 M18.40,-2.58 L18.92,-2.06 M18.92,-3.10 L19.44,-2.58 M18.92,-2.06 L19.44,-2.58 M23.74,6.02 L39.22,-21.50 M48.68,-18.06 L48.68,0.00 M49.54,-18.06 L49.54,0.00 M42.66,-18.06 L55.56,-18.06 M46.10,0.00 L52.12,0.00 M42.66,-12.90 L43.52,-18.06 M54.70,-18.06 L55.56,-12.90 M42.66,-18.06 L42.66,-12.90 M55.56,-18.06 L55.56,-12.90 M59.34,3.61 L65.53,3.61 M65.02,1.55 L65.02,3.61 M64.50,1.03 L65.53,2.58 M58.82,3.61 L59.34,2.06 M58.82,4.64 L59.34,6.19 M59.34,3.61 L59.86,2.06 M59.34,4.64 L59.86,6.19 M60.37,1.03 L61.92,0.52 M60.37,7.22 L61.92,7.74 M62.95,7.74 L64.50,7.22 M61.92,0.52 L63.47,0.52 M59.34,2.06 L60.37,1.03 M59.34,6.19 L60.37,7.22 M59.86,2.06 L60.89,1.03 M59.86,6.19 L60.89,7.22 M64.50,7.22 L65.53,6.19 M63.47,0.52 L64.50,1.03 M58.82,3.61 L58.82,4.64 M59.34,3.61 L59.34,4.64 M61.92,7.74 L62.95,7.74 M65.53,2.58 L65.53,3.61 M64.50,1.03 L65.02,2.06 M60.89,7.22 L61.92,7.74 M60.89,1.03 L61.92,0.52 M70.95,-10.32 L84.71,-10.32 M70.95,-5.16 L84.71,-5.16 M92.02,-9.46 L92.88,-14.62 M92.02,-8.60 L92.88,-3.44 M92.88,-9.46 L93.74,-14.62 M92.88,-8.60 L93.74,-3.44 M102.34,-14.62 L103.20,-10.32 M102.34,-3.44 L103.20,-7.74 M103.20,-14.62 L104.06,-10.32 M103.20,-3.44 L104.06,-7.74 M92.88,-14.62 L94.60,-17.20 M92.88,-3.44 L94.60,-0.86 M101.48,-17.20 L103.20,-14.62 M101.48,-0.86 L103.20,-3.44 M94.60,-17.20 L97.18,-18.06 M94.60,-0.86 L97.18,0.00 M98.90,-18.06 L101.48,-17.20 M98.90,0.00 L101.48,-0.86 M103.20,-10.32 L103.20,-7.74 M104.06,-10.32 L104.06,-7.74 M93.74,-14.62 L94.60,-16.34 M93.74,-3.44 L94.60,-1.72 M101.48,-16.34 L102.34,-14.62 M101.48,-1.72 L102.34,-3.44 M97.18,-18.06 L98.90,-18.06 M97.18,0.00 L98.90,0.00 M94.60,-16.34 L95.46,-17.20 M94.60,-1.72 L95.46,-0.86 M100.62,-17.20 L101.48,-16.34 M100.62,-0.86 L101.48,-1.72 M92.02,-9.46 L92.02,-8.60 M92.88,-9.46 L92.88,-8.60 M98.90,0.00 L100.62,-0.86 M98.90,-18.06 L100.62,-17.20 M95.46,-0.86 L97.18,0.00 M95.46,-17.20 L97.18,-18.06 M110.08,-0.86 L110.94,-1.72 M110.08,-0.86 L110.94,0.00 M110.94,-1.72 L111.80,-0.86 M110.94,0.00 L111.80,-0.86 M120.40,-6.88 L126.42,-9.46 M120.40,-2.58 L124.70,0.00 M123.84,-8.60 L128.14,-11.18 M120.40,-2.58 L124.70,-0.86 M122.12,-18.06 L125.56,-18.06 M124.70,0.00 L128.14,0.00 M126.42,-9.46 L129.00,-11.18 M117.82,-2.58 L118.68,-5.16 M119.54,-17.20 L122.12,-18.06 M125.56,-18.06 L128.14,-17.20 M117.82,-2.58 L117.82,0.00 M124.70,-0.86 L127.28,-0.86 M118.68,-5.16 L120.40,-6.88 M117.82,-14.62 L118.68,-16.34 M127.28,-0.86 L129.00,-1.72 M128.14,-16.34 L129.00,-14.62 M128.14,-11.18 L129.00,-12.90 M129.00,-16.34 L129.86,-14.62 M129.00,-11.18 L129.86,-12.90 M129.00,-0.86 L129.86,-2.58 M118.68,-2.58 L120.40,-2.58 M129.00,-14.62 L129.00,-12.90 M129.86,-14.62 L129.86,-12.90 M129.86,-4.30 L129.86,-2.58 M117.82,-13.76 L118.68,-12.90 M117.82,-1.72 L118.68,-2.58 M118.68,-16.34 L119.54,-17.20 M118.68,-14.62 L119.54,-13.76 M118.68,-12.90 L119.54,-13.76 M127.28,-17.20 L128.14,-16.34 M128.14,-17.20 L129.00,-16.34 M128.14,0.00 L129.00,-0.86 M117.82,-14.62 L117.82,-13.76 M129.00,-1.72 L129.86,-2.58 M125.56,-18.06 L127.28,-17.20 M122.12,-7.74 L123.84,-8.60" fill="none" stroke="#000" stroke-width="2.10" stroke-linecap="round" stroke-linejoin="round"/>
<path transform="translate(433.30,399.80) translate(0.00,0)" d="M7.74,-18.06 L7.74,0.00 M8.60,-18.06 L8.60,0.00 M1.72,-18.06 L14.62,-18.06 M5.16,0.00 L11.18,0.00 M1.72,-12.90 L2.58,-18.06 M13.76,-18.06 L14.62,-12.90 M1.72,-18.06 L1.72,-12.90 M14.62,-18.06 L14.62,-12.90 M18.92,0.52 L18.92,7.74 M19.44,0.52 L19.44,7.74 M17.37,7.74 L20.98,7.74 M17.37,0.52 L19.44,0.52 M18.40,-2.58 L18.92,-3.10 M18.40,-2.58 L18.92,-2.06 M18.92,-3.10 L19.44,-2.58 M18.92,-2.06 L19.44,-2.58 M23.74,6.02 L39.22,-21.50 M48.68,-18.06 L48.68,0.00 M49.54,-18.06 L49.54,0.00 M42.66,-18.06 L55.56,-18.06 M46.10,0.00 L52.12,0.00 M42.66,-12.90 L43.52,-18.06 M54.70,-18.06 L55.56,-12.90 M42.66,-18.06 L42.66,-12.90 M55.56,-18.06 L55.56,-12.90 M59.34,3.61 L65.53,3.61 M65.02,1.55 L65.02,3.61 M64.50,1.03 L65.53,2.58 M58.82,3.61 L59.34,2.06 M58.82,4.64 L59.34,6.19 M59.34,3.61 L59.86,2.06 M59.34,4.64 L59.86,6.19 M60.37,1.03 L61.92,0.52 M60.37,7.22 L61.92,7.74 M62.95,7.74 L64.50,7.22 M61.92,0.52 L63.47,0.52 M59.34,2.06 L60.37,1.03 M59.34,6.19 L60.37,7.22 M59.86,2.06 L60.89,1.03 M59.86,6.19 L60.89,7.22 M64.50,7.22 L65.53,6.19 M63.47,0.52 L64.50,1.03 M58.82,3.61 L58.82,4.64 M59.34,3.61 L59.34,4.64 M61.92,7.74 L62.95,7.74 M65.53,2.58 L65.53,3.61 M64.50,1.03 L65.02,2.06 M60.89,7.22 L61.92,7.74 M60.89,1.03 L61.92,0.52 M70.95,-10.32 L84.71,-10.32 M70.95,-5.16 L84.71,-5.16 M126.42,-18.06 L126.42,0.00 M125.56,-17.20 L125.56,0.00 M122.64,0.00 L129.17,0.00 M123.84,-15.48 L126.42,-18.06 M122.12,-14.62 L123.84,-15.48" fill="none" stroke="#000" stroke-width="2.10" stroke-linecap="round" stroke-linejoin="round"/>
<path transform="translate(433.30,444.50) translate(0.00,0)" d="M7.74,-18.06 L7.74,0.00 M8.60,-18.06 L8.60,0.00 M1.72,-18.06 L14.62,-18.06 M5.16,0.00 L11.18,0.00 M1.72,-12.90 L2.58,-18.06 M13.76,-18.06 L14.62,-12.90 M1.72,-18.06 L1.72,-12.90 M14.62,-18.06 L14.62,-12.90 M18.92,0.52 L18.92,7.74 M19.44,0.52 L19.44,7.74 M17.37,7.74 L20.98,7.74 M17.37,0.52 L19.44,0.52 M18.40,-2.58 L18.92,-3.10 M18.40,-2.58 L18.92,-2.06 M18.92,-3.10 L19.44,-2.58 M18.92,-2.06 L19.44,-2.58 M23.74,6.02 L39.22,-21.50 M48.68,-18.06 L48.68,0.00 M49.54,-18.06 L49.54,0.00 M42.66,-18.06 L55.56,-18.06 M46.10,0.00 L52.12,0.00 M42.66,-12.90 L43.52,-18.06 M54.70,-18.06 L55.56,-12.90 M42.66,-18.06 L42.66,-12.90 M55.56,-18.06 L55.56,-12.90 M59.34,3.61 L65.53,3.61 M65.02,1.55 L65.02,3.61 M64.50,1.03 L65.53,2.58 M58.82,3.61 L59.34,2.06 M58.82,4.64 L59.34,6.19 M59.34,3.61 L59.86,2.06 M59.34,4.64 L59.86,6.19 M60.37,1.03 L61.92,0.52 M60.37,7.22 L61.92,7.74 M62.95,7.74 L64.50,7.22 M61.92,0.52 L63.47,0.52 M59.34,2.06 L60.37,1.03 M59.34,6.19 L60.37,7.22 M59.86,2.06 L60.89,1.03 M59.86,6.19 L60.89,7.22 M64.50,7.22 L65.53,6.19 M63.47,0.52 L64.50,1.03 M58.82,3.61 L58.82,4.64 M59.34,3.61 L59.34,4.64 M61.92,7.74 L62.95,7.74 M65.53,2.58 L65.53,3.61 M64.50,1.03 L65.02,2.06 M60.89,7.22 L61.92,7.74 M60.89,1.03 L61.92,0.52 M70.95,-10.32 L84.71,-10.32 M70.95,-5.16 L84.71,-5.16 M98.90,-18.06 L98.90,0.00 M98.04,-17.20 L98.04,0.00 M95.12,0.00 L101.65,0.00 M96.32,-15.48 L98.90,-18.06 M94.60,-14.62 L96.32,-15.48 M109.22,-9.46 L110.08,-14.62 M109.22,-8.60 L110.08,-3.44 M110.08,-9.46 L110.94,-14.62 M110.08,-8.60 L110.94,-3.44 M119.54,-14.62 L120.40,-10.32 M119.54,-3.44 L120.40,-7.74 M120.40,-14.62 L121.26,-10.32 M120.40,-3.44 L121.26,-7.74 M110.08,-14.62 L111.80,-17.20 M110.08,-3.44 L111.80,-0.86 M118.68,-17.20 L120.40,-14.62 M118.68,-0.86 L120.40,-3.44 M111.80,-17.20 L114.38,-18.06 M111.80,-0.86 L114.38,0.00 M116.10,-18.06 L118.68,-17.20 M116.10,0.00 L118.68,-0.86 M120.40,-10.32 L120.40,-7.74 M121.26,-10.32 L121.26,-7.74 M110.94,-14.62 L111.80,-16.34 M110.94,-3.44 L111.80,-1.72 M118.68,-16.34 L119.54,-14.62 M118.68,-1.72 L119.54,-3.44 M114.38,-18.06 L116.10,-18.06 M114.38,0.00 L116.10,0.00 M111.80,-16.34 L112.66,-17.20 M111.80,-1.72 L112.66,-0.86 M117.82,-17.20 L118.68,-16.34 M117.82,-0.86 L118.68,-1.72 M109.22,-9.46 L109.22,-8.60 M110.08,-9.46 L110.08,-8.60 M116.10,0.00 L117.82,-0.86 M116.10,-18.06 L117.82,-17.20 M112.66,-0.86 L114.38,0.00 M112.66,-17.20 L114.38,-18.06 M126.42,-9.46 L127.28,-14.62 M126.42,-8.60 L127.28,-3.44 M127.28,-9.46 L128.14,-14.62 M127.28,-8.60 L128.14,-3.44 M136.74,-14.62 L137.60,-10.32 M136.74,-3.44 L137.60,-7.74 M137.60,-14.62 L138.46,-10.32 M137.60,-3.44 L138.46,-7.74 M127.28,-14.62 L129.00,-17.20 M127.28,-3.44 L129.00,-0.86 M135.88,-17.20 L137.60,-14.62 M135.88,-0.86 L137.60,-3.44 M129.00,-17.20 L131.58,-18.06 M129.00,-0.86 L131.58,0.00 M133.30,-18.06 L135.88,-17.20 M133.30,0.00 L135.88,-0.86 M137.60,-10.32 L137.60,-7.74 M138.46,-10.32 L138.46,-7.74 M128.14,-14.62 L129.00,-16.34 M128.14,-3.44 L129.00,-1.72 M135.88,-16.34 L136.74,-14.62 M135.88,-1.72 L136.74,-3.44 M131.58,-18.06 L133.30,-18.06 M131.58,0.00 L133.30,0.00 M129.00,-16.34 L129.86,-17.20 M129.00,-1.72 L129.86,-0.86 M135.02,-17.20 L135.88,-16.34 M135.02,-0.86 L135.88,-1.72 M126.42,-9.46 L126.42,-8.60 M127.28,-9.46 L127.28,-8.60 M133.30,0.00 L135.02,-0.86 M133.30,-18.06 L135.02,-17.20 M129.86,-0.86 L131.58,0.00 M129.86,-17.20 L131.58,-18.06" fill="none" stroke="#000" stroke-width="2.10" stroke-linecap="round" stroke-linejoin="round"/>
<path transform="translate(385.60,88.30) rotate(-19.50) translate(0.00,0)" d="M9.46,-18.06 L9.46,0.00 M8.60,-17.20 L8.60,0.00 M5.68,0.00 L12.21,0.00 M6.88,-15.48 L9.46,-18.06 M5.16,-14.62 L6.88,-15.48 M19.78,-9.46 L20.64,-14.62 M19.78,-8.60 L20.64,-3.44 M20.64,-9.46 L21.50,-14.62 M20.64,-8.60 L21.50,-3.44 M30.10,-14.62 L30.96,-10.32 M30.10,-3.44 L30.96,-7.74 M30.96,-14.62 L31.82,-10.32 M30.96,-3.44 L31.82,-7.74 M20.64,-14.62 L22.36,-17.20 M20.64,-3.44 L22.36,-0.86 M29.24,-17.20 L30.96,-14.62 M29.24,-0.86 L30.96,-3.44 M22.36,-17.20 L24.94,-18.06 M22.36,-0.86 L24.94,0.00 M26.66,-18.06 L29.24,-17.20 M26.66,0.00 L29.24,-0.86 M30.96,-10.32 L30.96,-7.74 M31.82,-10.32 L31.82,-7.74 M21.50,-14.62 L22.36,-16.34 M21.50,-3.44 L22.36,-1.72 M29.24,-16.34 L30.10,-14.62 M29.24,-1.72 L30.10,-3.44 M24.94,-18.06 L26.66,-18.06 M24.94,0.00 L26.66,0.00 M22.36,-16.34 L23.22,-17.20 M22.36,-1.72 L23.22,-0.86 M28.38,-17.20 L29.24,-16.34 M28.38,-0.86 L29.24,-1.72 M19.78,-9.46 L19.78,-8.60 M20.64,-9.46 L20.64,-8.60 M26.66,0.00 L28.38,-0.86 M26.66,-18.06 L28.38,-17.20 M23.22,-0.86 L24.94,0.00 M23.22,-17.20 L24.94,-18.06 M36.98,-9.46 L37.84,-14.62 M36.98,-8.60 L37.84,-3.44 M37.84,-9.46 L38.70,-14.62 M37.84,-8.60 L38.70,-3.44 M47.30,-14.62 L48.16,-10.32 M47.30,-3.44 L48.16,-7.74 M48.16,-14.62 L49.02,-10.32 M48.16,-3.44 L49.02,-7.74 M37.84,-14.62 L39.56,-17.20 M37.84,-3.44 L39.56,-0.86 M46.44,-17.20 L48.16,-14.62 M46.44,-0.86 L48.16,-3.44 M39.56,-17.20 L42.14,-18.06 M39.56,-0.86 L42.14,0.00 M43.86,-18.06 L46.44,-17.20 M43.86,0.00 L46.44,-0.86 M48.16,-10.32 L48.16,-7.74 M49.02,-10.32 L49.02,-7.74 M38.70,-14.62 L39.56,-16.34 M38.70,-3.44 L39.56,-1.72 M46.44,-16.34 L47.30,-14.62 M46.44,-1.72 L47.30,-3.44 M42.14,-18.06 L43.86,-18.06 M42.14,0.00 L43.86,0.00 M39.56,-16.34 L40.42,-17.20 M39.56,-1.72 L40.42,-0.86 M45.58,-17.20 L46.44,-16.34 M45.58,-0.86 L46.44,-1.72 M36.98,-9.46 L36.98,-8.60 M37.84,-9.46 L37.84,-8.60 M43.86,0.00 L45.58,-0.86 M43.86,-18.06 L45.58,-17.20 M40.42,-0.86 L42.14,0.00 M40.42,-17.20 L42.14,-18.06" fill="none" stroke="#000" stroke-width="2.10" stroke-linecap="round" stroke-linejoin="round"/>
<path transform="translate(416.90,123.20) rotate(-15.00) translate(0.00,0)" d="M9.46,-18.06 L9.46,0.00 M8.60,-17.20 L8.60,0.00 M5.68,0.00 L12.21,0.00 M6.88,-15.48 L9.46,-18.06 M5.16,-14.62 L6.88,-15.48" fill="none" stroke="#000" stroke-width="2.10" stroke-linecap="round" stroke-linejoin="round"/>
<path transform="translate(416.60,167.75) rotate(-15.00) translate(0.00,0)" d="M2.58,-9.46 L3.44,-14.62 M2.58,-8.60 L3.44,-3.44 M3.44,-9.46 L4.30,-14.62 M3.44,-8.60 L4.30,-3.44 M12.90,-14.62 L13.76,-10.32 M12.90,-3.44 L13.76,-7.74 M13.76,-14.62 L14.62,-10.32 M13.76,-3.44 L14.62,-7.74 M3.44,-14.62 L5.16,-17.20 M3.44,-3.44 L5.16,-0.86 M12.04,-17.20 L13.76,-14.62 M12.04,-0.86 L13.76,-3.44 M5.16,-17.20 L7.74,-18.06 M5.16,-0.86 L7.74,0.00 M9.46,-18.06 L12.04,-17.20 M9.46,0.00 L12.04,-0.86 M13.76,-10.32 L13.76,-7.74 M14.62,-10.32 L14.62,-7.74 M4.30,-14.62 L5.16,-16.34 M4.30,-3.44 L5.16,-1.72 M12.04,-16.34 L12.90,-14.62 M12.04,-1.72 L12.90,-3.44 M7.74,-18.06 L9.46,-18.06 M7.74,0.00 L9.46,0.00 M5.16,-16.34 L6.02,-17.20 M5.16,-1.72 L6.02,-0.86 M11.18,-17.20 L12.04,-16.34 M11.18,-0.86 L12.04,-1.72 M2.58,-9.46 L2.58,-8.60 M3.44,-9.46 L3.44,-8.60 M9.46,0.00 L11.18,-0.86 M9.46,-18.06 L11.18,-17.20 M6.02,-0.86 L7.74,0.00 M6.02,-17.20 L7.74,-18.06 M20.64,-0.86 L21.50,-1.72 M20.64,-0.86 L21.50,0.00 M21.50,-1.72 L22.36,-0.86 M21.50,0.00 L22.36,-0.86 M30.96,-6.88 L36.98,-9.46 M30.96,-2.58 L35.26,0.00 M34.40,-8.60 L38.70,-11.18 M30.96,-2.58 L35.26,-0.86 M32.68,-18.06 L36.12,-18.06 M35.26,0.00 L38.70,0.00 M36.98,-9.46 L39.56,-11.18 M28.38,-2.58 L29.24,-5.16 M30.10,-17.20 L32.68,-18.06 M36.12,-18.06 L38.70,-17.20 M28.38,-2.58 L28.38,0.00 M35.26,-0.86 L37.84,-0.86 M29.24,-5.16 L30.96,-6.88 M28.38,-14.62 L29.24,-16.34 M37.84,-0.86 L39.56,-1.72 M38.70,-16.34 L39.56,-14.62 M38.70,-11.18 L39.56,-12.90 M39.56,-16.34 L40.42,-14.62 M39.56,-11.18 L40.42,-12.90 M39.56,-0.86 L40.42,-2.58 M29.24,-2.58 L30.96,-2.58 M39.56,-14.62 L39.56,-12.90 M40.42,-14.62 L40.42,-12.90 M40.42,-4.30 L40.42,-2.58 M28.38,-13.76 L29.24,-12.90 M28.38,-1.72 L29.24,-2.58 M29.24,-16.34 L30.10,-17.20 M29.24,-14.62 L30.10,-13.76 M29.24,-12.90 L30.10,-13.76 M37.84,-17.20 L38.70,-16.34 M38.70,-17.20 L39.56,-16.34 M38.70,0.00 L39.56,-0.86 M28.38,-14.62 L28.38,-13.76 M39.56,-1.72 L40.42,-2.58 M36.12,-18.06 L37.84,-17.20 M32.68,-7.74 L34.40,-8.60" fill="none" stroke="#000" stroke-width="2.10" stroke-linecap="round" stroke-linejoin="round"/>
<path d="M423.30,791.40 L424.30,785.10 L425.80,778.60 L427.60,773.10 L430.10,769.50 L433.60,768.30 L436.40,769.80 L436.60,772.60 L434.60,775.30 L429.60,776.20 L433.60,777.30 L434.80,780.60 L433.60,784.10 L430.10,785.90 L427.10,784.90 L425.80,782.10" fill="none" stroke="#000" stroke-width="2.6" stroke-linecap="round" stroke-linejoin="round"/>
<clipPath id="cb"><rect x="0" y="0" width="797" height="795.6"/></clipPath>
<g clip-path="url(#cb)"><path transform="translate(439.40,795.00) translate(0.00,0)" d="M2.58,-7.22 L2.58,0.00 M3.10,-7.22 L3.10,0.00 M1.03,0.00 L4.64,0.00 M1.03,-7.22 L3.10,-7.22 M2.06,-10.32 L2.58,-10.84 M2.06,-10.32 L2.58,-9.80 M2.58,-10.84 L3.10,-10.32 M2.58,-9.80 L3.10,-10.32" fill="none" stroke="#000" stroke-width="2.10" stroke-linecap="round" stroke-linejoin="round"/></g>
</svg>
</body></html>
